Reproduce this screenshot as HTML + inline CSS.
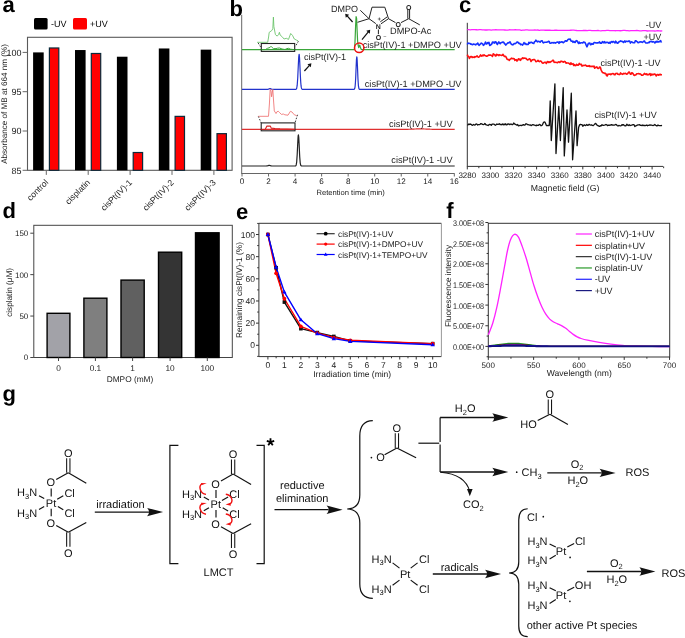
<!DOCTYPE html>
<html><head><meta charset="utf-8"><style>
html,body{margin:0;padding:0;background:#fff;}
svg{display:block;will-change:transform;font-family:"Liberation Sans",sans-serif;text-rendering:geometricPrecision;}
</style></head><body>
<svg width="685" height="638" viewBox="0 0 685 638">
<rect x="0" y="0" width="685" height="638" fill="#fff"/>
<text x="2.60" y="11.80" font-size="22" text-anchor="start" fill="#000" font-weight="bold" >a</text>
<rect x="34.00" y="18.00" width="13.60" height="11.40" fill="#000" stroke="none" stroke-width="1" rx="1.5"/>
<text x="51.00" y="27.30" font-size="9" text-anchor="start" fill="#000" >-UV</text>
<rect x="73.00" y="18.00" width="14.00" height="11.40" fill="#f00" stroke="none" stroke-width="1" rx="1.5"/>
<text x="90.00" y="27.30" font-size="9" text-anchor="start" fill="#000" >+UV</text>
<rect x="27.50" y="37.30" width="204.60" height="133.00" fill="none" stroke="#5a5a5a" stroke-width="1.1" />
<line x1="22.60" y1="170.30" x2="27.50" y2="170.30" stroke="#666" stroke-width="1" />
<text x="21.60" y="173.50" font-size="9" text-anchor="end" fill="#222" >85</text>
<line x1="22.60" y1="131.00" x2="27.50" y2="131.00" stroke="#666" stroke-width="1" />
<text x="21.60" y="134.20" font-size="9" text-anchor="end" fill="#222" >90</text>
<line x1="22.60" y1="91.70" x2="27.50" y2="91.70" stroke="#666" stroke-width="1" />
<text x="21.60" y="94.90" font-size="9" text-anchor="end" fill="#222" >95</text>
<line x1="22.60" y1="52.40" x2="27.50" y2="52.40" stroke="#666" stroke-width="1" />
<text x="21.60" y="55.60" font-size="9" text-anchor="end" fill="#222" >100</text>
<rect x="33.10" y="52.40" width="10.60" height="117.90" fill="#000" stroke="none" stroke-width="1" />
<rect x="49.40" y="47.98" width="9.40" height="122.32" fill="#f00" stroke="#0b2a3a" stroke-width="1.2" />
<line x1="46.30" y1="170.30" x2="46.30" y2="174.90" stroke="#666" stroke-width="1" />
<text transform="translate(48.80,183.0) rotate(-45)" font-size="8.6" text-anchor="end" fill="#222">control</text>
<rect x="75.00" y="50.04" width="10.60" height="120.26" fill="#000" stroke="none" stroke-width="1" />
<rect x="91.30" y="53.49" width="9.40" height="116.81" fill="#f00" stroke="#0b2a3a" stroke-width="1.2" />
<line x1="88.20" y1="170.30" x2="88.20" y2="174.90" stroke="#666" stroke-width="1" />
<text transform="translate(90.70,183.0) rotate(-45)" font-size="8.6" text-anchor="end" fill="#222">cisplatin</text>
<rect x="116.90" y="56.72" width="10.60" height="113.58" fill="#000" stroke="none" stroke-width="1" />
<rect x="133.20" y="152.52" width="9.40" height="17.78" fill="#f00" stroke="#0b2a3a" stroke-width="1.2" />
<line x1="130.10" y1="170.30" x2="130.10" y2="174.90" stroke="#666" stroke-width="1" />
<text transform="translate(132.60,183.0) rotate(-45)" font-size="8.6" text-anchor="end" fill="#222">cisPt(IV)-1</text>
<rect x="158.80" y="48.47" width="10.60" height="121.83" fill="#000" stroke="none" stroke-width="1" />
<rect x="175.10" y="116.37" width="9.40" height="53.93" fill="#f00" stroke="#0b2a3a" stroke-width="1.2" />
<line x1="172.00" y1="170.30" x2="172.00" y2="174.90" stroke="#666" stroke-width="1" />
<text transform="translate(174.50,183.0) rotate(-45)" font-size="8.6" text-anchor="end" fill="#222">cisPt(IV)-2</text>
<rect x="200.70" y="49.65" width="10.60" height="120.65" fill="#000" stroke="none" stroke-width="1" />
<rect x="217.00" y="133.66" width="9.40" height="36.64" fill="#f00" stroke="#0b2a3a" stroke-width="1.2" />
<line x1="213.90" y1="170.30" x2="213.90" y2="174.90" stroke="#666" stroke-width="1" />
<text transform="translate(216.40,183.0) rotate(-45)" font-size="8.6" text-anchor="end" fill="#222">cisPt(IV)-3</text>
<text transform="translate(6.5,104.0) rotate(-90)" font-size="8.1" text-anchor="middle" fill="#222">Absorbance of MB at 664 nm (%)</text>
<text x="229.60" y="15.60" font-size="22" text-anchor="start" fill="#000" font-weight="bold" >b</text>
<line x1="241.70" y1="14.80" x2="241.70" y2="174.00" stroke="#666" stroke-width="1" />
<line x1="241.70" y1="173.50" x2="454.62" y2="173.50" stroke="#666" stroke-width="1" />
<line x1="242.00" y1="173.50" x2="242.00" y2="176.50" stroke="#666" stroke-width="1" />
<line x1="268.54" y1="173.50" x2="268.54" y2="176.50" stroke="#666" stroke-width="1" />
<line x1="295.08" y1="173.50" x2="295.08" y2="176.50" stroke="#666" stroke-width="1" />
<line x1="321.62" y1="173.50" x2="321.62" y2="176.50" stroke="#666" stroke-width="1" />
<line x1="348.16" y1="173.50" x2="348.16" y2="176.50" stroke="#666" stroke-width="1" />
<line x1="374.70" y1="173.50" x2="374.70" y2="176.50" stroke="#666" stroke-width="1" />
<line x1="401.24" y1="173.50" x2="401.24" y2="176.50" stroke="#666" stroke-width="1" />
<line x1="427.78" y1="173.50" x2="427.78" y2="176.50" stroke="#666" stroke-width="1" />
<line x1="454.32" y1="173.50" x2="454.32" y2="176.50" stroke="#666" stroke-width="1" />
<text x="242.00" y="184.30" font-size="8.1" text-anchor="middle" fill="#222" >0</text>
<text x="268.54" y="184.30" font-size="8.1" text-anchor="middle" fill="#222" >2</text>
<text x="295.08" y="184.30" font-size="8.1" text-anchor="middle" fill="#222" >4</text>
<text x="321.62" y="184.30" font-size="8.1" text-anchor="middle" fill="#222" >6</text>
<text x="348.16" y="184.30" font-size="8.1" text-anchor="middle" fill="#222" >8</text>
<text x="374.70" y="184.30" font-size="8.1" text-anchor="middle" fill="#222" >10</text>
<text x="401.24" y="184.30" font-size="8.1" text-anchor="middle" fill="#222" >12</text>
<text x="427.78" y="184.30" font-size="8.1" text-anchor="middle" fill="#222" >14</text>
<text x="454.32" y="184.30" font-size="8.1" text-anchor="middle" fill="#222" >16</text>
<text x="350.70" y="195.30" font-size="7.6" text-anchor="middle" fill="#222" >Retention time (min)</text>
<polyline points="242.00,49.70 354.40,49.70 355.00,42.00 355.60,26.00 356.10,16.60 356.60,18.50 357.10,30.00 357.60,41.00 358.10,45.00 358.70,47.60 359.30,45.60 359.80,45.20 360.40,47.60 361.30,49.40 362.00,49.70 454.70,49.70" fill="none" stroke="#3aa63a" stroke-width="1.2" stroke-linejoin="round" />
<polyline points="242.00,89.40 242.51,89.40 243.01,89.40 243.52,89.40 244.03,89.40 244.53,89.40 245.04,89.40 245.54,89.40 246.05,89.40 246.56,89.40 247.06,89.40 247.57,89.40 248.08,89.40 248.58,89.40 249.09,89.40 249.60,89.40 250.10,89.40 250.61,89.40 251.12,89.40 251.62,89.40 252.13,89.40 252.63,89.40 253.14,89.40 253.65,89.40 254.15,89.40 254.66,89.40 255.17,89.40 255.67,89.40 256.18,89.40 256.69,89.40 257.19,89.40 257.70,89.40 258.21,89.40 258.71,89.40 259.22,89.40 259.73,89.40 260.23,89.40 260.74,89.40 261.24,89.40 261.75,89.40 262.26,89.40 262.76,89.40 263.27,89.40 263.78,89.40 264.28,89.40 264.79,89.40 265.30,89.40 265.80,89.40 266.31,89.40 266.81,89.39 267.00,89.39 267.32,89.37 267.75,89.32 267.83,89.30 268.33,89.17 268.50,89.11 268.84,88.96 269.10,88.84 269.35,88.74 269.55,88.67 269.85,88.61 270.00,88.60 270.36,88.64 270.45,88.67 270.87,88.83 270.90,88.84 271.37,89.05 271.50,89.11 271.88,89.23 272.25,89.32 272.39,89.34 272.89,89.38 273.00,89.39 273.40,89.40 273.90,89.40 274.41,89.40 274.92,89.40 275.42,89.40 275.93,89.40 276.44,89.40 276.94,89.40 277.45,89.40 277.96,89.40 278.46,89.40 278.97,89.40 279.48,89.40 279.98,89.40 280.49,89.40 281.00,89.40 281.50,89.40 282.01,89.40 282.51,89.40 283.02,89.40 283.53,89.40 284.03,89.40 284.54,89.40 285.05,89.40 285.55,89.40 286.06,89.40 286.57,89.40 287.07,89.40 287.58,89.40 288.08,89.40 288.59,89.40 289.10,89.40 289.60,89.40 290.11,89.40 290.62,89.40 291.12,89.40 291.63,89.40 292.14,89.40 292.64,89.40 293.15,89.40 293.66,89.40 294.16,89.40 294.67,89.40 295.18,89.40 295.68,89.37 296.19,89.17 296.50,88.76 296.69,88.26 297.15,85.70 297.20,85.24 297.71,78.27 297.80,76.49 298.21,67.34 298.32,64.91 298.71,57.32 298.72,57.17 299.10,54.30 299.23,54.63 299.49,57.32 299.73,61.71 299.88,64.91 300.24,73.11 300.40,76.49 300.75,82.34 301.05,85.70 301.25,87.13 301.70,88.76 301.76,88.86 302.26,89.31 302.77,89.39 303.28,89.40 303.78,89.40 304.29,89.40 304.80,89.40 305.30,89.40 305.81,89.40 306.32,89.40 306.82,89.40 307.33,89.40 307.84,89.40 308.34,89.40 308.85,89.40 309.36,89.40 309.86,89.40 310.37,89.40 310.87,89.40 311.38,89.40 311.89,89.40 312.39,89.40 312.90,89.40 313.41,89.40 313.91,89.40 314.42,89.40 314.93,89.40 315.43,89.40 315.94,89.40 316.44,89.40 316.95,89.40 317.46,89.40 317.96,89.40 318.47,89.40 318.98,89.40 319.48,89.40 319.99,89.40 320.50,89.40 321.00,89.40 321.51,89.40 322.02,89.40 322.52,89.40 323.03,89.40 323.54,89.40 324.04,89.40 324.55,89.40 325.05,89.40 325.56,89.40 326.07,89.40 326.57,89.40 327.08,89.40 327.59,89.40 328.09,89.40 328.60,89.40 329.11,89.40 329.61,89.40 330.12,89.40 330.62,89.40 331.13,89.40 331.64,89.40 332.14,89.40 332.65,89.40 333.16,89.40 333.66,89.40 334.17,89.40 334.68,89.40 335.18,89.40 335.69,89.40 336.20,89.40 336.70,89.40 337.21,89.40 337.71,89.40 338.22,89.40 338.73,89.40 339.23,89.40 339.74,89.40 340.25,89.40 340.75,89.40 341.26,89.40 341.77,89.40 342.27,89.40 342.78,89.40 343.29,89.40 343.79,89.40 344.30,89.40 344.81,89.40 345.31,89.40 345.82,89.40 346.32,89.40 346.83,89.40 347.34,89.40 347.84,89.40 348.35,89.40 348.86,89.40 349.36,89.40 349.87,89.40 350.38,89.40 350.88,89.40 351.39,89.40 351.89,89.40 352.40,89.40 352.91,89.40 353.41,89.40 353.92,89.37 354.43,89.09 354.60,88.80 354.93,87.57 355.15,85.96 355.44,82.33 355.70,77.41 355.95,71.56 356.14,66.66 356.45,59.89 356.47,59.61 356.80,56.80 356.96,57.47 357.13,59.61 357.46,66.66 357.47,66.80 357.90,77.41 357.97,78.92 358.45,85.96 358.48,86.23 358.99,88.77 359.00,88.80 359.49,89.32 360.00,89.39 360.50,89.40 361.01,89.40 361.52,89.40 362.02,89.40 362.53,89.40 363.04,89.40 363.54,89.40 364.05,89.40 364.56,89.40 365.06,89.40 365.57,89.40 366.07,89.40 366.58,89.40 367.09,89.40 367.59,89.40 368.10,89.40 368.61,89.40 369.11,89.40 369.62,89.40 370.13,89.40 370.63,89.40 371.14,89.40 371.65,89.40 372.15,89.40 372.66,89.40 373.17,89.40 373.67,89.40 374.18,89.40 374.68,89.40 375.19,89.40 375.70,89.40 376.20,89.40 376.71,89.40 377.22,89.40 377.72,89.40 378.23,89.40 378.74,89.40 379.24,89.40 379.75,89.40 380.25,89.40 380.76,89.40 381.27,89.40 381.77,89.40 382.28,89.40 382.79,89.40 383.29,89.40 383.80,89.40 384.31,89.40 384.81,89.40 385.32,89.40 385.83,89.40 386.33,89.40 386.84,89.40 387.35,89.40 387.85,89.40 388.36,89.40 388.86,89.40 389.37,89.40 389.88,89.40 390.38,89.40 390.89,89.40 391.40,89.40 391.90,89.40 392.41,89.40 392.92,89.40 393.42,89.40 393.93,89.40 394.44,89.40 394.94,89.40 395.45,89.40 395.95,89.40 396.46,89.40 396.97,89.40 397.47,89.40 397.98,89.40 398.49,89.40 398.99,89.40 399.50,89.40 400.01,89.40 400.51,89.40 401.02,89.40 401.52,89.40 402.03,89.40 402.54,89.40 403.04,89.40 403.55,89.40 404.06,89.40 404.56,89.40 405.07,89.40 405.58,89.40 406.08,89.40 406.59,89.40 407.10,89.40 407.60,89.40 408.11,89.40 408.62,89.40 409.12,89.40 409.63,89.40 410.13,89.40 410.64,89.40 411.15,89.40 411.65,89.40 412.16,89.40 412.67,89.40 413.17,89.40 413.68,89.40 414.19,89.40 414.69,89.40 415.20,89.40 415.70,89.40 416.21,89.40 416.72,89.40 417.22,89.40 417.73,89.40 418.24,89.40 418.74,89.40 419.25,89.40 419.76,89.40 420.26,89.40 420.77,89.40 421.28,89.40 421.78,89.40 422.29,89.40 422.80,89.40 423.30,89.40 423.81,89.40 424.31,89.40 424.82,89.40 425.33,89.40 425.83,89.40 426.34,89.40 426.85,89.40 427.35,89.40 427.86,89.40 428.37,89.40 428.87,89.40 429.38,89.40 429.88,89.40 430.39,89.40 430.90,89.40 431.40,89.40 431.91,89.40 432.42,89.40 432.92,89.40 433.43,89.40 433.94,89.40 434.44,89.40 434.95,89.40 435.46,89.40 435.96,89.40 436.47,89.40 436.98,89.40 437.48,89.40 437.99,89.40 438.49,89.40 439.00,89.40 439.51,89.40 440.01,89.40 440.52,89.40 441.03,89.40 441.53,89.40 442.04,89.40 442.55,89.40 443.05,89.40 443.56,89.40 444.06,89.40 444.57,89.40 445.08,89.40 445.58,89.40 446.09,89.40 446.60,89.40 447.10,89.40 447.61,89.40 448.12,89.40 448.62,89.40 449.13,89.40 449.64,89.40 450.14,89.40 450.65,89.40 451.15,89.40 451.66,89.40 452.17,89.40 452.67,89.40 453.18,89.40 453.69,89.40 454.19,89.40 454.70,89.40" fill="none" stroke="#2233cc" stroke-width="1.2" stroke-linejoin="round" />
<polyline points="242.00,129.40 242.51,129.40 243.01,129.40 243.52,129.40 244.03,129.40 244.53,129.40 245.04,129.40 245.54,129.40 246.05,129.40 246.56,129.40 247.06,129.40 247.57,129.40 248.08,129.40 248.58,129.40 249.09,129.40 249.60,129.40 250.10,129.40 250.61,129.40 251.12,129.40 251.62,129.40 252.13,129.40 252.63,129.40 253.14,129.40 253.65,129.40 254.15,129.40 254.66,129.40 255.17,129.40 255.67,129.40 256.18,129.40 256.69,129.40 257.19,129.40 257.70,129.40 258.21,129.40 258.71,129.40 259.22,129.40 259.73,129.40 260.23,129.40 260.74,129.40 261.24,129.40 261.75,129.40 262.26,129.40 262.76,129.40 263.27,129.40 263.78,129.40 264.28,129.40 264.79,129.40 265.30,129.40 265.80,129.40 266.31,129.40 266.81,129.40 267.32,129.40 267.83,129.40 268.33,129.40 268.84,129.40 269.35,129.40 269.85,129.40 270.36,129.40 270.87,129.40 271.37,129.40 271.88,129.40 272.39,129.40 272.89,129.40 273.40,129.40 273.90,129.40 274.41,129.40 274.92,129.40 275.42,129.40 275.93,129.40 276.44,129.40 276.94,129.40 277.45,129.40 277.96,129.40 278.46,129.40 278.97,129.40 279.48,129.40 279.98,129.40 280.49,129.40 281.00,129.40 281.50,129.40 282.01,129.40 282.51,129.40 283.02,129.40 283.53,129.40 284.03,129.40 284.54,129.40 285.05,129.40 285.55,129.40 286.06,129.40 286.57,129.40 287.07,129.40 287.58,129.40 288.08,129.40 288.59,129.40 289.10,129.40 289.60,129.40 290.11,129.40 290.62,129.40 291.12,129.40 291.63,129.40 292.14,129.40 292.64,129.40 293.15,129.40 293.66,129.40 294.16,129.40 294.67,129.40 295.18,129.40 295.68,129.40 296.19,129.40 296.69,129.40 297.20,129.40 297.71,129.40 298.21,129.40 298.72,129.40 299.23,129.40 299.73,129.40 300.24,129.40 300.75,129.40 301.25,129.40 301.76,129.40 302.26,129.40 302.77,129.40 303.28,129.40 303.78,129.40 304.29,129.40 304.80,129.40 305.30,129.40 305.81,129.40 306.32,129.40 306.82,129.40 307.33,129.40 307.84,129.40 308.34,129.40 308.85,129.40 309.36,129.40 309.86,129.40 310.37,129.40 310.87,129.40 311.38,129.40 311.89,129.40 312.39,129.40 312.90,129.40 313.41,129.40 313.91,129.40 314.42,129.40 314.93,129.40 315.43,129.40 315.94,129.40 316.44,129.40 316.95,129.40 317.46,129.40 317.96,129.40 318.47,129.40 318.98,129.40 319.48,129.40 319.99,129.40 320.50,129.40 321.00,129.40 321.51,129.40 322.02,129.40 322.52,129.40 323.03,129.40 323.54,129.40 324.04,129.40 324.55,129.40 325.05,129.40 325.56,129.40 326.07,129.40 326.57,129.40 327.08,129.40 327.59,129.40 328.09,129.40 328.60,129.40 329.11,129.40 329.61,129.40 330.12,129.40 330.62,129.40 331.13,129.40 331.64,129.40 332.14,129.40 332.65,129.40 333.16,129.40 333.66,129.40 334.17,129.40 334.68,129.40 335.18,129.40 335.69,129.40 336.20,129.40 336.70,129.40 337.21,129.40 337.71,129.40 338.22,129.40 338.73,129.40 339.23,129.40 339.74,129.40 340.25,129.40 340.75,129.40 341.26,129.40 341.77,129.40 342.27,129.40 342.78,129.40 343.29,129.40 343.79,129.40 344.30,129.40 344.81,129.40 345.31,129.40 345.82,129.40 346.32,129.40 346.83,129.40 347.34,129.40 347.84,129.40 348.35,129.40 348.86,129.40 349.36,129.40 349.87,129.40 350.38,129.40 350.88,129.40 351.39,129.40 351.89,129.40 352.40,129.40 352.91,129.40 353.41,129.40 353.92,129.40 354.43,129.40 354.93,129.40 355.44,129.40 355.95,129.40 356.45,129.40 356.96,129.40 357.47,129.40 357.97,129.40 358.48,129.40 358.99,129.40 359.49,129.40 360.00,129.40 360.50,129.40 361.01,129.40 361.52,129.40 362.02,129.40 362.53,129.40 363.04,129.40 363.54,129.40 364.05,129.40 364.56,129.40 365.06,129.40 365.57,129.40 366.07,129.40 366.58,129.40 367.09,129.40 367.59,129.40 368.10,129.40 368.61,129.40 369.11,129.40 369.62,129.40 370.13,129.40 370.63,129.40 371.14,129.40 371.65,129.40 372.15,129.40 372.66,129.40 373.17,129.40 373.67,129.40 374.18,129.40 374.68,129.40 375.19,129.40 375.70,129.40 376.20,129.40 376.71,129.40 377.22,129.40 377.72,129.40 378.23,129.40 378.74,129.40 379.24,129.40 379.75,129.40 380.25,129.40 380.76,129.40 381.27,129.40 381.77,129.40 382.28,129.40 382.79,129.40 383.29,129.40 383.80,129.40 384.31,129.40 384.81,129.40 385.32,129.40 385.83,129.40 386.33,129.40 386.84,129.40 387.35,129.40 387.85,129.40 388.36,129.40 388.86,129.40 389.37,129.40 389.88,129.40 390.38,129.40 390.89,129.40 391.40,129.40 391.90,129.40 392.41,129.40 392.92,129.40 393.42,129.40 393.93,129.40 394.44,129.40 394.94,129.40 395.45,129.40 395.95,129.40 396.46,129.40 396.97,129.40 397.47,129.40 397.98,129.40 398.49,129.40 398.99,129.39 399.50,129.39 400.00,129.39 400.01,129.39 400.51,129.39 401.02,129.39 401.52,129.38 402.03,129.38 402.54,129.38 403.04,129.37 403.55,129.37 404.06,129.36 404.56,129.35 405.00,129.35 405.07,129.35 405.58,129.34 406.08,129.33 406.59,129.32 407.10,129.31 407.60,129.29 408.11,129.28 408.62,129.26 409.12,129.25 409.63,129.23 410.00,129.22 410.13,129.21 410.64,129.19 411.15,129.17 411.65,129.15 412.16,129.13 412.67,129.11 413.17,129.09 413.68,129.06 414.00,129.05 414.19,129.04 414.69,129.02 415.20,129.00 415.70,128.98 416.21,128.97 416.72,128.95 417.00,128.94 417.22,128.94 417.73,128.93 418.24,128.92 418.74,128.91 419.25,128.90 419.76,128.90 420.00,128.90 420.26,128.90 420.77,128.90 421.28,128.91 421.78,128.92 422.29,128.93 422.80,128.94 423.00,128.94 423.30,128.95 423.81,128.97 424.31,128.98 424.82,129.00 425.33,129.02 425.83,129.04 426.00,129.05 426.34,129.07 426.85,129.09 427.35,129.11 427.86,129.13 428.37,129.15 428.87,129.17 429.38,129.19 429.88,129.21 430.00,129.22 430.39,129.23 430.90,129.25 431.40,129.26 431.91,129.28 432.42,129.29 432.92,129.31 433.43,129.32 433.94,129.33 434.44,129.34 434.95,129.35 435.00,129.35 435.46,129.35 435.96,129.36 436.47,129.37 436.98,129.37 437.48,129.38 437.99,129.38 438.49,129.38 439.00,129.39 439.51,129.39 440.00,129.39 440.01,129.39 440.52,129.39 441.03,129.39 441.53,129.40 442.04,129.40 442.55,129.40 443.05,129.40 443.56,129.40 444.06,129.40 444.57,129.40 445.08,129.40 445.58,129.40 446.09,129.40 446.60,129.40 447.10,129.40 447.61,129.40 448.12,129.40 448.62,129.40 449.13,129.40 449.64,129.40 450.14,129.40 450.65,129.40 451.15,129.40 451.66,129.40 452.17,129.40 452.67,129.40 453.18,129.40 453.69,129.40 454.19,129.40 454.70,129.40" fill="none" stroke="#e03030" stroke-width="1.2" stroke-linejoin="round" />
<polyline points="242.00,166.00 242.51,166.00 243.01,166.00 243.52,166.00 244.03,166.00 244.53,166.00 245.04,166.00 245.54,166.00 246.05,166.00 246.56,166.00 247.06,166.00 247.57,166.00 248.08,166.00 248.58,166.00 249.09,166.00 249.60,166.00 250.10,166.00 250.61,166.00 251.12,166.00 251.62,166.00 252.13,166.00 252.63,166.00 253.14,166.00 253.65,166.00 254.15,166.00 254.66,166.00 255.17,166.00 255.67,166.00 256.18,166.00 256.69,166.00 257.19,166.00 257.70,166.00 258.21,166.00 258.71,166.00 259.22,166.00 259.73,166.00 260.23,166.00 260.74,166.00 261.24,166.00 261.75,166.00 262.26,166.00 262.76,166.00 263.27,166.00 263.78,166.00 264.28,166.00 264.79,166.00 265.30,166.00 265.80,166.00 266.20,165.99 266.31,165.99 266.81,165.95 266.95,165.94 267.32,165.88 267.70,165.78 267.83,165.74 268.30,165.58 268.33,165.57 268.75,165.45 268.84,165.43 269.20,165.40 269.35,165.41 269.65,165.45 269.85,165.50 270.10,165.58 270.36,165.67 270.70,165.78 270.87,165.83 271.37,165.93 271.45,165.94 271.88,165.98 272.20,165.99 272.39,165.99 272.89,166.00 273.40,166.00 273.90,166.00 274.41,166.00 274.92,166.00 275.42,166.00 275.93,166.00 276.44,166.00 276.94,166.00 277.45,166.00 277.96,166.00 278.46,166.00 278.97,166.00 279.48,166.00 279.98,166.00 280.49,166.00 281.00,166.00 281.50,166.00 282.01,166.00 282.51,166.00 283.02,166.00 283.53,166.00 284.03,166.00 284.54,166.00 285.05,166.00 285.55,166.00 286.06,166.00 286.57,166.00 287.07,166.00 287.58,166.00 288.08,166.00 288.59,166.00 289.10,166.00 289.60,166.00 290.11,166.00 290.62,166.00 291.12,166.00 291.63,166.00 292.14,166.00 292.64,166.00 293.15,166.00 293.66,166.00 294.16,166.00 294.67,166.00 295.18,165.98 295.68,165.82 296.00,165.43 296.19,164.96 296.60,162.72 296.69,161.88 297.20,154.56 297.20,154.54 297.68,144.30 297.71,143.72 298.04,137.58 298.21,135.64 298.40,134.90 298.72,137.03 298.76,137.58 299.12,144.30 299.23,146.64 299.60,154.56 299.73,156.95 300.20,162.72 300.24,163.03 300.75,165.32 300.80,165.43 301.25,165.89 301.76,165.99 302.26,166.00 302.77,166.00 303.28,166.00 303.78,166.00 304.29,166.00 304.80,166.00 305.30,166.00 305.81,166.00 306.32,166.00 306.82,166.00 307.33,166.00 307.84,166.00 308.34,166.00 308.85,166.00 309.36,166.00 309.86,166.00 310.37,166.00 310.87,166.00 311.38,166.00 311.89,166.00 312.39,166.00 312.90,166.00 313.41,166.00 313.91,166.00 314.42,166.00 314.93,166.00 315.43,166.00 315.94,166.00 316.44,166.00 316.95,166.00 317.46,166.00 317.96,166.00 318.47,166.00 318.98,166.00 319.48,166.00 319.99,166.00 320.50,166.00 321.00,166.00 321.51,166.00 322.02,166.00 322.52,166.00 323.03,166.00 323.54,166.00 324.04,166.00 324.55,166.00 325.05,166.00 325.56,166.00 326.07,166.00 326.57,166.00 327.08,166.00 327.59,166.00 328.09,166.00 328.60,166.00 329.11,166.00 329.61,166.00 330.12,166.00 330.62,166.00 331.13,166.00 331.64,166.00 332.14,166.00 332.65,166.00 333.16,166.00 333.66,166.00 334.17,166.00 334.68,166.00 335.18,166.00 335.69,166.00 336.20,166.00 336.70,166.00 337.21,166.00 337.71,166.00 338.22,166.00 338.73,166.00 339.23,166.00 339.74,166.00 340.25,166.00 340.75,166.00 341.26,166.00 341.77,166.00 342.27,166.00 342.78,166.00 343.29,166.00 343.79,166.00 344.30,166.00 344.81,166.00 345.31,166.00 345.82,166.00 346.32,166.00 346.83,166.00 347.34,166.00 347.84,166.00 348.35,166.00 348.86,166.00 349.36,166.00 349.87,166.00 350.38,166.00 350.88,166.00 351.39,166.00 351.89,166.00 352.40,166.00 352.91,166.00 353.41,166.00 353.92,166.00 354.43,166.00 354.93,166.00 355.44,166.00 355.95,166.00 356.45,166.00 356.96,166.00 357.47,166.00 357.97,166.00 358.48,166.00 358.99,166.00 359.49,166.00 360.00,166.00 360.50,166.00 361.01,166.00 361.52,166.00 362.02,166.00 362.53,166.00 363.04,166.00 363.54,166.00 364.05,166.00 364.56,166.00 365.06,166.00 365.57,166.00 366.07,166.00 366.58,166.00 367.09,166.00 367.59,166.00 368.10,166.00 368.61,166.00 369.11,166.00 369.62,166.00 370.13,166.00 370.63,166.00 371.14,166.00 371.65,166.00 372.15,166.00 372.66,166.00 373.17,166.00 373.67,166.00 374.18,166.00 374.68,166.00 375.19,166.00 375.70,166.00 376.20,166.00 376.71,166.00 377.22,166.00 377.72,166.00 378.23,166.00 378.74,166.00 379.24,166.00 379.75,166.00 380.25,166.00 380.76,166.00 381.27,166.00 381.77,166.00 382.28,166.00 382.79,166.00 383.29,166.00 383.80,166.00 384.31,166.00 384.81,166.00 385.32,166.00 385.83,166.00 386.33,166.00 386.84,166.00 387.35,166.00 387.85,166.00 388.36,166.00 388.86,166.00 389.37,166.00 389.88,166.00 390.38,166.00 390.89,166.00 391.40,166.00 391.90,166.00 392.41,166.00 392.92,166.00 393.42,166.00 393.93,166.00 394.44,166.00 394.94,166.00 395.45,166.00 395.95,166.00 396.46,166.00 396.97,166.00 397.47,166.00 397.98,166.00 398.49,166.00 398.99,166.00 399.50,166.00 400.01,166.00 400.51,166.00 401.02,166.00 401.52,166.00 402.03,166.00 402.54,166.00 403.04,166.00 403.55,166.00 404.06,166.00 404.56,166.00 405.07,166.00 405.58,166.00 406.08,166.00 406.59,166.00 407.10,166.00 407.60,166.00 408.11,166.00 408.62,166.00 409.12,166.00 409.63,166.00 410.13,166.00 410.64,166.00 411.15,166.00 411.65,166.00 412.16,166.00 412.67,166.00 413.17,166.00 413.68,166.00 414.19,166.00 414.69,166.00 415.20,166.00 415.70,166.00 416.21,166.00 416.72,166.00 417.22,166.00 417.73,166.00 418.24,166.00 418.74,166.00 419.25,166.00 419.76,166.00 420.26,166.00 420.77,166.00 421.28,166.00 421.78,166.00 422.29,166.00 422.80,166.00 423.30,166.00 423.81,166.00 424.31,166.00 424.82,166.00 425.33,166.00 425.83,166.00 426.34,166.00 426.85,166.00 427.35,166.00 427.86,166.00 428.37,166.00 428.87,166.00 429.38,166.00 429.88,166.00 430.39,166.00 430.90,166.00 431.40,166.00 431.91,166.00 432.42,166.00 432.92,166.00 433.43,166.00 433.94,166.00 434.44,166.00 434.95,166.00 435.46,166.00 435.96,166.00 436.47,166.00 436.98,166.00 437.48,166.00 437.99,166.00 438.49,166.00 439.00,166.00 439.51,166.00 440.01,166.00 440.52,166.00 441.03,166.00 441.53,166.00 442.04,166.00 442.55,166.00 443.05,166.00 443.56,166.00 444.06,166.00 444.57,166.00 445.08,166.00 445.58,166.00 446.09,166.00 446.60,166.00 447.10,166.00 447.61,166.00 448.12,166.00 448.62,166.00 449.13,166.00 449.64,166.00 450.14,166.00 450.65,166.00 451.15,166.00 451.66,166.00 452.17,166.00 452.67,166.00 453.18,166.00 453.69,166.00 454.19,166.00 454.70,166.00" fill="none" stroke="#222" stroke-width="1.2" stroke-linejoin="round" />
<text x="461.70" y="47.50" font-size="9.2" text-anchor="end" fill="#222" >cisPt(IV)-1 +DMPO +UV</text>
<text x="461.50" y="86.90" font-size="9.2" text-anchor="end" fill="#222" >cisPt(IV)-1 +DMPO -UV</text>
<text x="452.60" y="126.60" font-size="9.2" text-anchor="end" fill="#222" >cisPt(IV)-1 +UV</text>
<text x="452.60" y="162.60" font-size="9.2" text-anchor="end" fill="#222" >cisPt(IV)-1 -UV</text>
<text x="303.90" y="59.80" font-size="9.05" text-anchor="start" fill="#222" >cisPt(IV)-1</text>
<rect x="261.30" y="43.50" width="33.40" height="7.90" fill="none" stroke="#222" stroke-width="1.1" />
<rect x="261.20" y="122.90" width="33.80" height="7.90" fill="none" stroke="#222" stroke-width="1.1" />
<line x1="258.20" y1="43.00" x2="261.30" y2="48.00" stroke="#222" stroke-width="0.9" stroke-dasharray="1.6,1.4"/>
<line x1="298.40" y1="41.20" x2="295.40" y2="46.50" stroke="#222" stroke-width="0.9" stroke-dasharray="1.6,1.4"/>
<line x1="258.30" y1="116.30" x2="261.20" y2="122.90" stroke="#222" stroke-width="0.9" stroke-dasharray="1.6,1.4"/>
<line x1="297.50" y1="114.80" x2="295.00" y2="122.90" stroke="#222" stroke-width="0.9" stroke-dasharray="1.6,1.4"/>
<polyline points="257.10,42.30 267.70,42.30 268.60,37.00 269.20,32.40 271.70,30.60 272.80,28.80 273.40,17.10 273.90,26.60 275.40,34.60 277.20,36.10 278.60,34.50 279.40,32.30 280.10,35.00 281.90,36.50 284.10,39.00 286.30,38.30 288.50,39.40 290.70,33.50 292.50,35.40 294.30,39.00 296.30,40.00 298.00,40.80" fill="none" stroke="#66c266" stroke-width="0.85" stroke-linejoin="round" />
<polyline points="261.50,49.70 265.50,49.50 267.50,48.30 270.00,47.50 271.00,46.30 272.20,47.60 273.50,48.60 276.00,48.60 277.50,48.20 279.50,48.00 282.00,49.00 285.00,49.50 287.00,48.60 288.50,48.30 290.50,49.20 294.70,49.70" fill="none" stroke="#3aa63a" stroke-width="1.0" stroke-linejoin="round" />
<polyline points="258.30,116.30 268.50,116.30 269.40,104.00 270.20,88.90 271.00,91.00 271.60,96.80 272.30,92.00 272.80,89.30 273.50,100.00 274.30,110.90 276.00,113.50 277.10,111.60 278.30,111.30 279.40,112.40 281.40,114.40 283.30,114.00 284.90,114.80 288.00,115.20 290.40,111.30 292.00,112.00 294.30,114.80 296.70,115.60" fill="none" stroke="#ee7070" stroke-width="0.85" stroke-linejoin="round" />
<polyline points="261.40,129.50 265.30,129.30 266.90,126.10 270.40,126.10 271.20,128.10 275.00,128.50 280.00,128.80 294.80,129.30" fill="none" stroke="#d42020" stroke-width="1.1" stroke-linejoin="round" />
<circle cx="359.2" cy="47.8" r="4.7" fill="none" stroke="#ee1111" stroke-width="1.5"/>
<line x1="304.40" y1="71.00" x2="309.45" y2="65.45" stroke="#111" stroke-width="1.2" />
<polygon points="311.40,63.30 310.81,67.36 307.41,64.27" fill="#111"/>
<line x1="352.60" y1="22.00" x2="347.14" y2="15.95" stroke="#111" stroke-width="1.2" />
<polygon points="345.20,13.80 349.19,14.78 345.77,17.87" fill="#111"/>
<line x1="362.00" y1="39.60" x2="368.35" y2="31.93" stroke="#111" stroke-width="1.2" />
<polygon points="370.20,29.70 369.80,33.79 366.26,30.85" fill="#111"/>
<text x="331.00" y="11.90" font-size="9" text-anchor="start" fill="#222" >DMPO</text>
<text x="390.00" y="34.20" font-size="9.2" text-anchor="start" fill="#222" >DMPO-Ac</text>
<line x1="369.00" y1="18.70" x2="372.00" y2="7.20" stroke="#222" stroke-width="1.0" />
<line x1="372.00" y1="7.20" x2="384.80" y2="7.20" stroke="#222" stroke-width="1.0" />
<line x1="384.80" y1="7.20" x2="388.50" y2="18.70" stroke="#222" stroke-width="1.0" />
<line x1="369.00" y1="18.70" x2="375.80" y2="23.60" stroke="#222" stroke-width="1.0" />
<line x1="388.50" y1="18.70" x2="381.00" y2="23.80" stroke="#222" stroke-width="1.0" />
<line x1="387.00" y1="17.00" x2="380.30" y2="21.80" stroke="#222" stroke-width="1.0" />
<line x1="369.00" y1="18.70" x2="360.30" y2="10.30" stroke="#222" stroke-width="1.0" />
<line x1="369.00" y1="18.70" x2="357.50" y2="22.30" stroke="#222" stroke-width="1.0" />
<text x="378.40" y="29.00" font-size="7" text-anchor="middle" fill="#222" font-weight="bold" >N</text>
<text x="379.20" y="21.40" font-size="6" text-anchor="middle" fill="#222" font-weight="bold" >+</text>
<line x1="378.40" y1="29.50" x2="378.40" y2="34.20" stroke="#222" stroke-width="1.0" />
<text x="378.40" y="40.20" font-size="7" text-anchor="middle" fill="#222" font-weight="bold" >O</text>
<text x="384.80" y="37.50" font-size="5.5" text-anchor="middle" fill="#222" >−</text>
<line x1="388.50" y1="18.70" x2="395.50" y2="22.60" stroke="#222" stroke-width="1.0" />
<text x="398.30" y="26.70" font-size="7" text-anchor="middle" fill="#222" font-weight="bold" >O</text>
<line x1="401.00" y1="22.60" x2="408.70" y2="18.70" stroke="#222" stroke-width="1.0" />
<line x1="407.80" y1="18.70" x2="407.80" y2="9.60" stroke="#222" stroke-width="1.0" />
<line x1="409.60" y1="18.70" x2="409.60" y2="9.60" stroke="#222" stroke-width="1.0" />
<text x="408.70" y="9.60" font-size="7" text-anchor="middle" fill="#222" font-weight="bold" >O</text>
<line x1="408.70" y1="18.70" x2="419.80" y2="24.90" stroke="#222" stroke-width="1.0" />
<text x="458.90" y="11.80" font-size="22" text-anchor="start" fill="#000" font-weight="bold" >c</text>
<line x1="467.30" y1="22.80" x2="467.30" y2="166.90" stroke="#333" stroke-width="1" />
<line x1="467.30" y1="166.40" x2="663.00" y2="166.40" stroke="#333" stroke-width="1" />
<line x1="467.30" y1="166.40" x2="467.30" y2="169.40" stroke="#333" stroke-width="1" />
<line x1="478.85" y1="166.40" x2="478.85" y2="168.20" stroke="#333" stroke-width="1" />
<line x1="490.40" y1="166.40" x2="490.40" y2="169.40" stroke="#333" stroke-width="1" />
<line x1="501.95" y1="166.40" x2="501.95" y2="168.20" stroke="#333" stroke-width="1" />
<line x1="513.50" y1="166.40" x2="513.50" y2="169.40" stroke="#333" stroke-width="1" />
<line x1="525.05" y1="166.40" x2="525.05" y2="168.20" stroke="#333" stroke-width="1" />
<line x1="536.60" y1="166.40" x2="536.60" y2="169.40" stroke="#333" stroke-width="1" />
<line x1="548.15" y1="166.40" x2="548.15" y2="168.20" stroke="#333" stroke-width="1" />
<line x1="559.70" y1="166.40" x2="559.70" y2="169.40" stroke="#333" stroke-width="1" />
<line x1="571.25" y1="166.40" x2="571.25" y2="168.20" stroke="#333" stroke-width="1" />
<line x1="582.80" y1="166.40" x2="582.80" y2="169.40" stroke="#333" stroke-width="1" />
<line x1="594.35" y1="166.40" x2="594.35" y2="168.20" stroke="#333" stroke-width="1" />
<line x1="605.90" y1="166.40" x2="605.90" y2="169.40" stroke="#333" stroke-width="1" />
<line x1="617.45" y1="166.40" x2="617.45" y2="168.20" stroke="#333" stroke-width="1" />
<line x1="629.00" y1="166.40" x2="629.00" y2="169.40" stroke="#333" stroke-width="1" />
<line x1="640.55" y1="166.40" x2="640.55" y2="168.20" stroke="#333" stroke-width="1" />
<line x1="652.10" y1="166.40" x2="652.10" y2="169.40" stroke="#333" stroke-width="1" />
<line x1="663.65" y1="166.40" x2="663.65" y2="168.20" stroke="#333" stroke-width="1" />
<text x="467.30" y="178.00" font-size="8" text-anchor="middle" fill="#222" >3280</text>
<text x="490.40" y="178.00" font-size="8" text-anchor="middle" fill="#222" >3300</text>
<text x="513.50" y="178.00" font-size="8" text-anchor="middle" fill="#222" >3320</text>
<text x="536.60" y="178.00" font-size="8" text-anchor="middle" fill="#222" >3340</text>
<text x="559.70" y="178.00" font-size="8" text-anchor="middle" fill="#222" >3360</text>
<text x="582.80" y="178.00" font-size="8" text-anchor="middle" fill="#222" >3380</text>
<text x="605.90" y="178.00" font-size="8" text-anchor="middle" fill="#222" >3400</text>
<text x="629.00" y="178.00" font-size="8" text-anchor="middle" fill="#222" >3420</text>
<text x="652.10" y="178.00" font-size="8" text-anchor="middle" fill="#222" >3440</text>
<text x="565.00" y="191.20" font-size="8.7" text-anchor="middle" fill="#222" >Magnetic field (G)</text>
<polyline points="467.30,29.55 468.80,29.69 470.30,29.83 471.80,29.71 473.30,29.57 474.80,29.66 476.30,29.77 477.80,29.90 479.30,29.69 480.80,29.58 482.30,29.78 483.80,29.85 485.30,30.01 486.80,30.02 488.30,29.90 489.80,29.83 491.30,30.15 492.80,29.95 494.30,29.81 495.80,29.70 497.30,29.81 498.80,29.87 500.30,29.84 501.80,29.87 503.30,29.92 504.80,30.00 506.30,30.09 507.80,30.03 509.30,29.77 510.80,29.95 512.30,29.79 513.80,29.87 515.30,29.75 516.80,29.88 518.30,29.85 519.80,29.96 521.30,30.38 522.80,30.18 524.30,30.20 525.80,29.95 527.30,29.97 528.80,30.09 530.30,30.07 531.80,30.11 533.30,30.11 534.80,29.97 536.30,30.11 537.80,30.01 539.30,30.29 540.80,30.14 542.30,30.21 543.80,30.17 545.30,30.27 546.80,30.14 548.30,30.27 549.80,30.20 551.30,30.34 552.80,30.33 554.30,30.27 555.80,30.14 557.30,30.27 558.80,30.30 560.30,30.46 561.80,30.29 563.30,30.33 564.80,30.35 566.30,30.34 567.80,30.33 569.30,30.32 570.80,30.23 572.30,30.15 573.80,30.19 575.30,30.33 576.80,30.51 578.30,30.53 579.80,30.55 581.30,30.53 582.80,30.52 584.30,30.46 585.80,30.50 587.30,30.65 588.80,30.47 590.30,30.35 591.80,30.62 593.30,30.54 594.80,30.59 596.30,30.61 597.80,30.38 599.30,30.71 600.80,30.79 602.30,30.63 603.80,30.64 605.30,30.57 606.80,30.42 608.30,30.45 609.80,30.53 611.30,30.66 612.80,30.67 614.30,30.60 615.80,30.73 617.30,30.54 618.80,30.65 620.30,30.74 621.80,30.61 623.30,30.38 624.80,30.39 626.30,30.54 627.80,30.64 629.30,30.81 630.80,30.59 632.30,30.62 633.80,30.71 635.30,30.66 636.80,30.38 638.30,30.63 639.80,30.94 641.30,30.92 642.80,30.69 644.30,30.65 645.80,30.71 647.30,31.01 648.80,30.93 650.30,30.84 651.80,30.97 653.30,30.84 654.80,31.02 656.30,30.80 657.80,30.73 659.30,30.85 660.80,30.99 662.30,30.97" fill="none" stroke="#ff22ff" stroke-width="1.3" stroke-linejoin="round" />
<polyline points="467.30,44.51 468.00,43.10 468.70,43.24 469.40,43.36 470.10,43.46 470.80,44.28 471.50,43.99 472.20,44.64 472.90,44.43 473.60,44.04 474.30,44.17 475.00,44.43 475.70,44.84 476.40,44.08 477.10,43.91 477.80,43.02 478.50,44.70 479.20,45.33 479.90,44.47 480.60,43.85 481.30,43.02 482.00,43.61 482.70,43.89 483.40,45.38 484.10,44.68 484.80,43.63 485.50,41.97 486.20,43.91 486.90,43.91 487.60,42.63 488.30,43.29 489.00,42.32 489.70,45.42 490.40,45.15 491.10,44.63 491.80,43.85 492.50,42.11 493.20,42.72 493.90,41.98 494.60,43.13 495.30,41.72 496.00,41.93 496.70,43.49 497.40,44.48 498.10,42.93 498.80,41.96 499.50,43.20 500.20,43.74 500.90,42.73 501.60,42.49 502.30,42.40 503.00,42.02 503.70,42.22 504.40,43.68 505.10,43.96 505.80,45.05 506.50,44.06 507.20,43.59 507.90,42.80 508.60,43.06 509.30,42.36 510.00,41.73 510.70,43.20 511.40,44.39 512.10,44.52 512.80,44.93 513.50,44.38 514.20,43.47 514.90,43.63 515.60,43.40 516.30,42.79 517.00,42.12 517.70,41.98 518.40,42.97 519.10,43.54 519.80,43.37 520.50,44.64 521.20,44.35 521.90,44.51 522.60,45.05 523.30,43.88 524.00,42.56 524.70,43.88 525.40,43.40 526.10,44.49 526.80,44.23 527.50,44.52 528.20,44.41 528.90,42.30 529.60,43.25 530.30,42.63 531.00,42.23 531.70,42.20 532.40,42.97 533.10,43.33 533.80,43.51 534.50,41.66 535.20,41.51 535.90,40.12 536.60,41.02 537.30,41.85 538.00,41.21 538.70,41.55 539.40,41.63 540.10,42.17 540.80,41.25 541.50,40.87 542.20,40.78 542.90,42.54 543.60,42.90 544.30,42.26 545.00,42.25 545.70,42.21 546.40,42.29 547.10,42.08 547.80,41.93 548.50,41.26 549.20,41.42 549.90,43.14 550.60,43.17 551.30,42.90 552.00,42.61 552.70,42.72 553.40,43.01 554.10,42.48 554.80,42.87 555.50,43.11 556.20,42.57 556.90,42.33 557.60,42.12 558.30,42.02 559.00,43.38 559.70,41.75 560.40,42.33 561.10,42.12 561.80,41.87 562.50,42.10 563.20,42.78 563.90,42.19 564.60,41.62 565.30,40.88 566.00,40.73 566.70,41.24 567.40,40.40 568.10,39.40 568.80,39.12 569.50,39.19 570.20,39.10 570.90,40.89 571.60,41.26 572.30,41.09 573.00,42.29 573.70,41.43 574.40,42.11 575.10,42.53 575.80,41.17 576.50,40.63 577.20,40.91 577.90,42.40 578.60,43.43 579.30,42.21 580.00,43.34 580.70,42.92 581.40,42.81 582.10,42.73 582.80,42.94 583.50,42.07 584.20,42.33 584.90,42.37 585.60,43.68 586.30,45.47 587.00,46.80 587.70,45.10 588.40,43.31 589.10,43.38 589.80,42.99 590.50,44.80 591.20,44.58 591.90,43.52 592.60,44.16 593.30,44.12 594.00,42.54 594.70,42.54 595.40,42.69 596.10,42.90 596.80,43.01 597.50,42.69 598.20,42.86 598.90,42.34 599.60,41.85 600.30,43.29 601.00,43.13 601.70,43.09 602.40,41.64 603.10,41.97 603.80,42.79 604.50,41.67 605.20,42.82 605.90,42.29 606.60,42.58 607.30,42.33 608.00,42.44 608.70,43.17 609.40,42.35 610.10,43.35 610.80,42.14 611.50,41.48 612.20,42.31 612.90,41.43 613.60,41.50 614.30,42.41 615.00,43.02 615.70,41.19 616.40,41.95 617.10,43.24 617.80,43.32 618.50,42.34 619.20,41.63 619.90,41.50 620.60,40.86 621.30,41.19 622.00,41.39 622.70,41.52 623.40,42.50 624.10,41.95 624.80,40.85 625.50,42.11 626.20,41.19 626.90,41.21 627.60,41.44 628.30,41.40 629.00,40.92 629.70,41.23 630.40,43.07 631.10,41.95 631.80,41.77 632.50,42.57 633.20,42.67 633.90,42.73 634.60,42.82 635.30,40.88 636.00,40.78 636.70,41.43 637.40,41.98 638.10,42.79 638.80,42.57 639.50,41.98 640.20,41.91 640.90,41.71 641.60,41.94 642.30,42.35 643.00,41.83 643.70,41.26 644.40,40.98 645.10,42.23 645.80,42.92 646.50,43.03 647.20,42.99 647.90,42.96 648.60,42.37 649.30,42.57 650.00,41.46 650.70,41.56 651.40,41.24 652.10,42.12 652.80,41.60 653.50,41.70 654.20,42.11 654.90,42.96 655.60,41.85 656.30,41.25 657.00,42.21 657.70,41.30 658.40,41.98 659.10,41.58 659.80,41.73 660.50,40.59 661.20,41.86 661.90,41.59" fill="none" stroke="#1530ff" stroke-width="1.6" stroke-linejoin="round" />
<polyline points="467.30,54.62 468.00,56.45 468.70,56.48 469.40,58.40 470.10,57.34 470.80,56.46 471.50,56.45 472.20,57.51 472.90,57.02 473.60,57.19 474.30,57.41 475.00,56.67 475.70,56.87 476.40,56.51 477.10,55.83 477.80,56.87 478.50,57.16 479.20,56.88 479.90,56.07 480.60,54.96 481.30,56.05 482.00,56.12 482.70,55.08 483.40,55.64 484.10,54.90 484.80,55.51 485.50,55.85 486.20,56.11 486.90,56.10 487.60,56.03 488.30,55.11 489.00,55.15 489.70,55.05 490.40,55.11 491.10,55.37 491.80,55.64 492.50,56.34 493.20,53.85 493.90,54.58 494.60,54.44 495.30,56.02 496.00,55.96 496.70,54.31 497.40,54.96 498.10,54.71 498.80,55.63 499.50,54.77 500.20,55.05 500.90,55.22 501.60,55.37 502.30,55.17 503.00,54.32 503.70,55.49 504.40,56.42 505.10,56.32 505.80,56.54 506.50,57.97 507.20,59.39 507.90,59.53 508.60,59.52 509.30,60.45 510.00,59.23 510.70,59.05 511.40,58.10 512.10,58.46 512.80,58.60 513.50,58.53 514.20,58.68 514.90,60.37 515.60,59.84 516.30,59.66 517.00,61.09 517.70,60.27 518.40,58.82 519.10,59.56 519.80,59.03 520.50,60.37 521.20,59.00 521.90,58.73 522.60,57.87 523.30,58.51 524.00,58.00 524.70,58.31 525.40,58.34 526.10,58.33 526.80,59.42 527.50,59.99 528.20,59.76 528.90,59.11 529.60,58.78 530.30,59.59 531.00,61.41 531.70,60.46 532.40,59.90 533.10,59.79 533.80,59.56 534.50,59.62 535.20,60.23 535.90,61.66 536.60,61.45 537.30,61.12 538.00,60.34 538.70,61.26 539.40,61.60 540.10,61.07 540.80,61.00 541.50,61.74 542.20,62.84 542.90,63.17 543.60,62.91 544.30,62.37 545.00,62.48 545.70,62.26 546.40,63.52 547.10,61.88 547.80,61.58 548.50,62.44 549.20,61.78 549.90,62.52 550.60,61.83 551.30,61.59 552.00,61.09 552.70,60.31 553.40,60.26 554.10,62.34 554.80,62.29 555.50,62.27 556.20,62.53 556.90,62.42 557.60,62.70 558.30,62.02 559.00,61.78 559.70,62.48 560.40,61.97 561.10,61.13 561.80,61.50 562.50,61.50 563.20,62.28 563.90,61.80 564.60,61.39 565.30,61.75 566.00,63.22 566.70,62.91 567.40,62.97 568.10,62.97 568.80,63.23 569.50,63.82 570.20,64.46 570.90,62.85 571.60,64.14 572.30,63.91 573.00,63.66 573.70,65.39 574.40,64.57 575.10,65.64 575.80,65.56 576.50,64.29 577.20,64.78 577.90,65.23 578.60,64.94 579.30,63.45 580.00,64.13 580.70,64.60 581.40,64.29 582.10,66.12 582.80,65.66 583.50,65.42 584.20,65.44 584.90,65.20 585.60,65.16 586.30,65.78 587.00,66.26 587.70,66.01 588.40,66.24 589.10,65.56 589.80,66.56 590.50,66.20 591.20,66.68 591.90,66.19 592.60,66.25 593.30,66.78 594.00,66.12 594.70,68.24 595.40,67.59 596.10,67.30 596.80,66.76 597.50,68.06 598.20,68.53 598.90,68.07 599.60,67.04 600.30,67.34 601.00,69.55 601.70,71.10 602.40,72.45 603.10,72.73 603.80,72.88 604.50,73.46 605.20,73.29 605.90,73.65 606.60,75.62 607.30,75.84 608.00,74.12 608.70,74.24 609.40,74.13 610.10,73.94 610.80,74.62 611.50,74.04 612.20,73.78 612.90,73.64 613.60,73.75 614.30,74.71 615.00,74.81 615.70,73.48 616.40,73.47 617.10,73.24 617.80,74.18 618.50,74.22 619.20,74.68 619.90,74.27 620.60,72.89 621.30,73.81 622.00,74.08 622.70,74.39 623.40,73.36 624.10,73.80 624.80,73.51 625.50,73.38 626.20,74.00 626.90,74.29 627.60,73.61 628.30,72.78 629.00,71.92 629.70,72.77 630.40,74.26 631.10,74.17 631.80,72.71 632.50,72.96 633.20,73.91 633.90,75.16 634.60,75.40 635.30,74.99 636.00,74.70 636.70,73.76 637.40,73.74 638.10,73.81 638.80,73.56 639.50,74.00 640.20,73.91 640.90,74.34 641.60,75.26 642.30,75.23 643.00,75.01 643.70,74.48 644.40,73.42 645.10,73.87 645.80,74.50 646.50,73.78 647.20,74.93 647.90,74.42 648.60,74.66 649.30,74.31 650.00,73.56 650.70,75.39 651.40,74.12 652.10,74.90 652.80,74.30 653.50,74.58 654.20,74.01 654.90,74.01 655.60,74.88 656.30,75.95 657.00,74.62 657.70,74.58 658.40,75.18 659.10,74.43 659.80,74.97 660.50,74.24 661.20,74.83 661.90,74.98" fill="none" stroke="#ff1010" stroke-width="1.6" stroke-linejoin="round" />
<polyline points="467.30,125.01 468.10,124.86 468.90,124.02 469.70,124.57 470.50,123.94 471.30,124.58 472.10,125.25 472.90,125.10 473.70,124.46 474.50,125.04 475.30,124.80 476.10,123.98 476.90,124.06 477.70,124.99 478.50,124.55 479.30,124.56 480.10,124.34 480.90,123.57 481.70,123.81 482.50,124.36 483.30,124.53 484.10,124.42 484.90,123.39 485.70,124.61 486.50,124.91 487.30,125.20 488.10,125.47 488.90,124.72 489.70,124.31 490.50,124.58 491.30,125.39 492.10,124.07 492.90,124.21 493.70,124.03 494.50,124.59 495.30,125.30 496.10,124.74 496.90,124.02 497.70,124.34 498.50,124.32 499.30,123.68 500.10,124.61 500.90,124.33 501.70,124.81 502.50,124.03 503.30,124.88 504.10,124.00 504.90,124.86 505.70,123.81 506.50,124.94 507.30,124.57 508.10,123.81 508.90,124.14 509.70,124.57 510.50,124.11 511.30,124.15 512.10,124.55 512.90,124.51 513.70,123.05 514.50,123.71 515.30,124.44 516.10,124.71 516.90,125.18 517.70,124.55 518.50,125.89 519.30,125.62 520.10,125.26 520.90,125.48 521.70,125.52 522.50,125.11 523.30,124.57 524.10,125.15 524.90,125.11 525.70,123.94 526.50,123.81 527.30,124.54 528.10,124.69 528.90,124.85 529.70,125.10 530.50,124.97 531.30,125.63 532.10,124.84 532.90,124.59 533.70,124.83 534.50,125.16 535.30,125.33 536.10,125.76 536.90,124.97 537.70,125.44 538.50,125.30 539.30,124.49 540.10,124.58 540.90,125.73 541.70,125.59 542.50,124.78 543.30,122.84 544.10,121.94 544.90,122.08 545.70,123.69 546.50,125.69 547.30,125.63 548.10,125.34 549.30,125.50 550.20,101.00 551.30,140.50 554.90,83.80 556.00,153.50 558.80,106.50 560.40,140.50 563.20,87.70 564.30,155.90 567.00,110.00 568.50,142.10 571.30,93.20 572.60,159.80 576.00,111.00 577.10,145.70 578.60,127.50 579.60,124.75 580.40,124.28 581.20,124.57 582.00,124.57 582.80,126.31 583.60,125.38 584.40,124.87 585.20,125.51 586.00,125.27 586.80,124.51 587.60,125.44 588.40,125.05 589.20,124.37 590.00,124.90 590.80,125.22 591.60,124.95 592.40,125.35 593.20,125.59 594.00,124.86 594.80,123.94 595.60,123.36 596.40,124.23 597.20,125.31 598.00,125.68 598.80,126.04 599.60,126.44 600.40,125.70 601.20,125.89 602.00,124.69 602.80,125.26 603.60,125.37 604.40,125.18 605.20,124.92 606.00,124.47 606.80,124.90 607.60,125.66 608.40,125.18 609.20,125.42 610.00,124.93 610.80,125.17 611.60,124.65 612.40,125.11 613.20,125.02 614.00,125.25 614.80,124.90 615.60,124.46 616.40,124.68 617.20,125.47 618.00,126.10 618.80,125.43 619.60,125.69 620.40,125.79 621.20,125.66 622.00,124.63 622.80,125.10 623.60,124.67 624.40,125.56 625.20,125.76 626.00,125.77 626.80,124.20 627.60,125.07 628.40,125.51 629.20,124.72 630.00,125.49 630.80,125.39 631.60,125.22 632.40,124.88 633.20,124.58 634.00,124.73 634.80,126.57 635.60,125.95 636.40,125.68 637.20,125.13 638.00,124.90 638.80,124.84 639.60,124.64 640.40,125.43 641.20,125.22 642.00,125.70 642.80,124.90 643.60,125.59 644.40,125.42 645.20,125.70 646.00,125.44 646.80,124.93 647.60,125.75 648.40,125.30 649.20,125.25 650.00,124.85 650.80,125.23 651.60,125.10 652.40,125.38 653.20,125.54 654.00,125.10 654.80,124.54 655.60,125.21 656.40,125.76 657.20,125.90 658.00,125.04 658.80,125.53 659.60,125.64 660.40,125.65 661.20,125.72 662.00,125.38" fill="none" stroke="#111" stroke-width="1.3" stroke-linejoin="round" />
<text x="661.30" y="27.50" font-size="9" text-anchor="end" fill="#222" >-UV</text>
<text x="661.30" y="39.80" font-size="9" text-anchor="end" fill="#222" >+UV</text>
<text x="660.60" y="65.70" font-size="9" text-anchor="end" fill="#222" >cisPt(IV)-1 -UV</text>
<text x="594.60" y="117.50" font-size="9" text-anchor="start" fill="#222" >cisPt(IV)-1 +UV</text>
<text x="2.40" y="218.40" font-size="22" text-anchor="start" fill="#000" font-weight="bold" >d</text>
<rect x="33.80" y="225.30" width="198.50" height="132.20" fill="none" stroke="#444" stroke-width="1" />
<line x1="30.30" y1="357.50" x2="33.80" y2="357.50" stroke="#444" stroke-width="1" />
<text x="28.30" y="360.40" font-size="8" text-anchor="end" fill="#222" >0</text>
<line x1="30.30" y1="316.06" x2="33.80" y2="316.06" stroke="#444" stroke-width="1" />
<text x="28.30" y="318.96" font-size="8" text-anchor="end" fill="#222" >50</text>
<line x1="30.30" y1="274.63" x2="33.80" y2="274.63" stroke="#444" stroke-width="1" />
<text x="28.30" y="277.53" font-size="8" text-anchor="end" fill="#222" >100</text>
<line x1="30.30" y1="233.19" x2="33.80" y2="233.19" stroke="#444" stroke-width="1" />
<text x="28.30" y="236.09" font-size="8" text-anchor="end" fill="#222" >150</text>
<rect x="47.10" y="313.30" width="22.80" height="44.20" fill="#a2a2a8" stroke="#000" stroke-width="1.4" />
<line x1="58.50" y1="357.50" x2="58.50" y2="361.00" stroke="#444" stroke-width="1" />
<text x="58.50" y="370.50" font-size="8.3" text-anchor="middle" fill="#222" >0</text>
<rect x="83.90" y="298.20" width="23.00" height="59.30" fill="#7f7f7f" stroke="#000" stroke-width="1.4" />
<line x1="95.40" y1="357.50" x2="95.40" y2="361.00" stroke="#444" stroke-width="1" />
<text x="95.40" y="370.50" font-size="8.3" text-anchor="middle" fill="#222" >0.1</text>
<rect x="121.00" y="280.10" width="23.20" height="77.40" fill="#606060" stroke="#000" stroke-width="1.4" />
<line x1="132.60" y1="357.50" x2="132.60" y2="361.00" stroke="#444" stroke-width="1" />
<text x="132.60" y="370.50" font-size="8.3" text-anchor="middle" fill="#222" >1</text>
<rect x="158.50" y="252.20" width="23.20" height="105.30" fill="#343434" stroke="#000" stroke-width="1.4" />
<line x1="170.10" y1="357.50" x2="170.10" y2="361.00" stroke="#444" stroke-width="1" />
<text x="170.10" y="370.50" font-size="8.3" text-anchor="middle" fill="#222" >10</text>
<rect x="195.50" y="232.80" width="23.60" height="124.70" fill="#000" stroke="#000" stroke-width="1.4" />
<line x1="207.30" y1="357.50" x2="207.30" y2="361.00" stroke="#444" stroke-width="1" />
<text x="207.30" y="370.50" font-size="8.3" text-anchor="middle" fill="#222" >100</text>
<text x="130.00" y="382.10" font-size="8.3" text-anchor="middle" fill="#222" >DMPO (mM)</text>
<text transform="translate(12.3,292.4) rotate(-90)" font-size="8.2" text-anchor="middle" fill="#222">cisplatin (μM)</text>
<text x="236.00" y="218.60" font-size="22" text-anchor="start" fill="#000" font-weight="bold" >e</text>
<line x1="258.90" y1="223.30" x2="441.40" y2="223.30" stroke="#333" stroke-width="1" />
<line x1="258.90" y1="223.30" x2="258.90" y2="356.60" stroke="#333" stroke-width="1" />
<line x1="258.90" y1="356.60" x2="441.40" y2="356.60" stroke="#333" stroke-width="1" />
<line x1="441.40" y1="223.30" x2="441.40" y2="356.60" stroke="#999" stroke-width="1" />
<line x1="257.20" y1="356.38" x2="258.90" y2="356.38" stroke="#333" stroke-width="1" />
<line x1="256.00" y1="345.30" x2="258.90" y2="345.30" stroke="#333" stroke-width="1" />
<line x1="257.20" y1="334.22" x2="258.90" y2="334.22" stroke="#333" stroke-width="1" />
<line x1="256.00" y1="323.14" x2="258.90" y2="323.14" stroke="#333" stroke-width="1" />
<line x1="257.20" y1="312.06" x2="258.90" y2="312.06" stroke="#333" stroke-width="1" />
<line x1="256.00" y1="300.98" x2="258.90" y2="300.98" stroke="#333" stroke-width="1" />
<line x1="257.20" y1="289.90" x2="258.90" y2="289.90" stroke="#333" stroke-width="1" />
<line x1="256.00" y1="278.82" x2="258.90" y2="278.82" stroke="#333" stroke-width="1" />
<line x1="257.20" y1="267.74" x2="258.90" y2="267.74" stroke="#333" stroke-width="1" />
<line x1="256.00" y1="256.66" x2="258.90" y2="256.66" stroke="#333" stroke-width="1" />
<line x1="257.20" y1="245.58" x2="258.90" y2="245.58" stroke="#333" stroke-width="1" />
<line x1="256.00" y1="234.50" x2="258.90" y2="234.50" stroke="#333" stroke-width="1" />
<line x1="257.20" y1="223.42" x2="258.90" y2="223.42" stroke="#333" stroke-width="1" />
<text x="255.00" y="348.30" font-size="8.5" text-anchor="end" fill="#222" >0</text>
<text x="255.00" y="326.14" font-size="8.5" text-anchor="end" fill="#222" >20</text>
<text x="255.00" y="303.98" font-size="8.5" text-anchor="end" fill="#222" >40</text>
<text x="255.00" y="281.82" font-size="8.5" text-anchor="end" fill="#222" >60</text>
<text x="255.00" y="259.66" font-size="8.5" text-anchor="end" fill="#222" >80</text>
<text x="255.00" y="237.50" font-size="8.5" text-anchor="end" fill="#222" >100</text>
<line x1="267.90" y1="356.60" x2="267.90" y2="359.50" stroke="#333" stroke-width="1" />
<line x1="276.14" y1="356.60" x2="276.14" y2="358.30" stroke="#333" stroke-width="1" />
<line x1="284.38" y1="356.60" x2="284.38" y2="359.50" stroke="#333" stroke-width="1" />
<line x1="292.62" y1="356.60" x2="292.62" y2="358.30" stroke="#333" stroke-width="1" />
<line x1="300.86" y1="356.60" x2="300.86" y2="359.50" stroke="#333" stroke-width="1" />
<line x1="309.10" y1="356.60" x2="309.10" y2="358.30" stroke="#333" stroke-width="1" />
<line x1="317.34" y1="356.60" x2="317.34" y2="359.50" stroke="#333" stroke-width="1" />
<line x1="325.58" y1="356.60" x2="325.58" y2="358.30" stroke="#333" stroke-width="1" />
<line x1="333.82" y1="356.60" x2="333.82" y2="359.50" stroke="#333" stroke-width="1" />
<line x1="342.06" y1="356.60" x2="342.06" y2="358.30" stroke="#333" stroke-width="1" />
<line x1="350.30" y1="356.60" x2="350.30" y2="359.50" stroke="#333" stroke-width="1" />
<line x1="358.54" y1="356.60" x2="358.54" y2="358.30" stroke="#333" stroke-width="1" />
<line x1="366.78" y1="356.60" x2="366.78" y2="359.50" stroke="#333" stroke-width="1" />
<line x1="375.02" y1="356.60" x2="375.02" y2="358.30" stroke="#333" stroke-width="1" />
<line x1="383.26" y1="356.60" x2="383.26" y2="359.50" stroke="#333" stroke-width="1" />
<line x1="391.50" y1="356.60" x2="391.50" y2="358.30" stroke="#333" stroke-width="1" />
<line x1="399.74" y1="356.60" x2="399.74" y2="359.50" stroke="#333" stroke-width="1" />
<line x1="407.98" y1="356.60" x2="407.98" y2="358.30" stroke="#333" stroke-width="1" />
<line x1="416.22" y1="356.60" x2="416.22" y2="359.50" stroke="#333" stroke-width="1" />
<line x1="424.46" y1="356.60" x2="424.46" y2="358.30" stroke="#333" stroke-width="1" />
<line x1="432.70" y1="356.60" x2="432.70" y2="359.50" stroke="#333" stroke-width="1" />
<text x="267.90" y="368.30" font-size="8.5" text-anchor="middle" fill="#222" >0</text>
<text x="284.38" y="368.30" font-size="8.5" text-anchor="middle" fill="#222" >1</text>
<text x="300.86" y="368.30" font-size="8.5" text-anchor="middle" fill="#222" >2</text>
<text x="317.34" y="368.30" font-size="8.5" text-anchor="middle" fill="#222" >3</text>
<text x="333.82" y="368.30" font-size="8.5" text-anchor="middle" fill="#222" >4</text>
<text x="350.30" y="368.30" font-size="8.5" text-anchor="middle" fill="#222" >5</text>
<text x="366.78" y="368.30" font-size="8.5" text-anchor="middle" fill="#222" >6</text>
<text x="383.26" y="368.30" font-size="8.5" text-anchor="middle" fill="#222" >7</text>
<text x="399.74" y="368.30" font-size="8.5" text-anchor="middle" fill="#222" >8</text>
<text x="416.22" y="368.30" font-size="8.5" text-anchor="middle" fill="#222" >9</text>
<text x="432.70" y="368.30" font-size="8.5" text-anchor="middle" fill="#222" >10</text>
<text x="352.20" y="376.90" font-size="8.5" text-anchor="middle" fill="#222" >Irradiation time (min)</text>
<text transform="translate(242.4,290.0) rotate(-90)" font-size="8.3" text-anchor="middle" fill="#222">Remaining cisPt(IV)-1 (%)</text>
<polyline points="267.90,234.50 276.14,267.74 284.38,302.09 300.86,328.68 317.34,332.56 333.82,336.44 350.30,340.87 432.70,343.64" fill="none" stroke="#111" stroke-width="1.4" stroke-linejoin="round" />
<polyline points="267.90,234.50 276.14,273.28 284.38,298.76 300.86,326.46 317.34,333.11 333.82,337.54 350.30,340.31 432.70,343.64" fill="none" stroke="#f00" stroke-width="1.4" stroke-linejoin="round" />
<polyline points="267.90,234.50 276.14,267.19 284.38,292.12 300.86,319.82 317.34,333.67 333.82,338.65 350.30,341.42 432.70,344.75" fill="none" stroke="#00f" stroke-width="1.4" stroke-linejoin="round" />
<rect x="266.10" y="232.70" width="3.60" height="3.60" fill="#111" stroke="none" stroke-width="1" />
<rect x="274.34" y="265.94" width="3.60" height="3.60" fill="#111" stroke="none" stroke-width="1" />
<rect x="282.58" y="300.29" width="3.60" height="3.60" fill="#111" stroke="none" stroke-width="1" />
<rect x="299.06" y="326.88" width="3.60" height="3.60" fill="#111" stroke="none" stroke-width="1" />
<rect x="315.54" y="330.76" width="3.60" height="3.60" fill="#111" stroke="none" stroke-width="1" />
<rect x="332.02" y="334.64" width="3.60" height="3.60" fill="#111" stroke="none" stroke-width="1" />
<rect x="348.50" y="339.07" width="3.60" height="3.60" fill="#111" stroke="none" stroke-width="1" />
<rect x="430.90" y="341.84" width="3.60" height="3.60" fill="#111" stroke="none" stroke-width="1" />
<circle cx="267.90" cy="234.50" r="1.9" fill="#f00"/>
<circle cx="276.14" cy="273.28" r="1.9" fill="#f00"/>
<circle cx="284.38" cy="298.76" r="1.9" fill="#f00"/>
<circle cx="300.86" cy="326.46" r="1.9" fill="#f00"/>
<circle cx="317.34" cy="333.11" r="1.9" fill="#f00"/>
<circle cx="333.82" cy="337.54" r="1.9" fill="#f00"/>
<circle cx="350.30" cy="340.31" r="1.9" fill="#f00"/>
<circle cx="432.70" cy="343.64" r="1.9" fill="#f00"/>
<polygon points="267.90,232.20 270.10,236.00 265.70,236.00" fill="#00f"/>
<polygon points="276.14,264.89 278.34,268.69 273.94,268.69" fill="#00f"/>
<polygon points="284.38,289.82 286.58,293.62 282.18,293.62" fill="#00f"/>
<polygon points="300.86,317.52 303.06,321.32 298.66,321.32" fill="#00f"/>
<polygon points="317.34,331.37 319.54,335.17 315.14,335.17" fill="#00f"/>
<polygon points="333.82,336.35 336.02,340.15 331.62,340.15" fill="#00f"/>
<polygon points="350.30,339.12 352.50,342.92 348.10,342.92" fill="#00f"/>
<polygon points="432.70,342.45 434.90,346.25 430.50,346.25" fill="#00f"/>
<line x1="316.60" y1="233.70" x2="334.70" y2="233.70" stroke="#333" stroke-width="1.2" />
<circle cx="325.7" cy="233.70" r="1.9" fill="#000"/>
<text x="338.10" y="236.70" font-size="8.3" text-anchor="start" fill="#222" >cisPt(IV)-1+UV</text>
<line x1="316.60" y1="244.10" x2="334.70" y2="244.10" stroke="#f00" stroke-width="1.2" />
<circle cx="325.7" cy="244.10" r="1.6" fill="#f00"/>
<text x="338.10" y="247.10" font-size="8.3" text-anchor="start" fill="#222" >cisPt(IV)-1+DMPO+UV</text>
<line x1="316.60" y1="254.50" x2="334.70" y2="254.50" stroke="#00f" stroke-width="1.2" />
<polygon points="325.7,252.50 327.6,255.80 323.8,255.80" fill="#00f"/>
<text x="338.10" y="257.50" font-size="8.3" text-anchor="start" fill="#222" >cisPt(IV)-1+TEMPO+UV</text>
<text x="446.30" y="218.40" font-size="22" text-anchor="start" fill="#000" font-weight="bold" >f</text>
<rect x="488.30" y="223.30" width="181.40" height="133.70" fill="none" stroke="#333" stroke-width="1" />
<line x1="486.60" y1="356.72" x2="488.30" y2="356.72" stroke="#333" stroke-width="1" />
<line x1="485.40" y1="346.40" x2="488.30" y2="346.40" stroke="#333" stroke-width="1" />
<line x1="486.60" y1="336.07" x2="488.30" y2="336.07" stroke="#333" stroke-width="1" />
<line x1="485.40" y1="325.75" x2="488.30" y2="325.75" stroke="#333" stroke-width="1" />
<line x1="486.60" y1="315.42" x2="488.30" y2="315.42" stroke="#333" stroke-width="1" />
<line x1="485.40" y1="305.10" x2="488.30" y2="305.10" stroke="#333" stroke-width="1" />
<line x1="486.60" y1="294.77" x2="488.30" y2="294.77" stroke="#333" stroke-width="1" />
<line x1="485.40" y1="284.45" x2="488.30" y2="284.45" stroke="#333" stroke-width="1" />
<line x1="486.60" y1="274.12" x2="488.30" y2="274.12" stroke="#333" stroke-width="1" />
<line x1="485.40" y1="263.80" x2="488.30" y2="263.80" stroke="#333" stroke-width="1" />
<line x1="486.60" y1="253.47" x2="488.30" y2="253.47" stroke="#333" stroke-width="1" />
<line x1="485.40" y1="243.15" x2="488.30" y2="243.15" stroke="#333" stroke-width="1" />
<line x1="486.60" y1="232.82" x2="488.30" y2="232.82" stroke="#333" stroke-width="1" />
<line x1="485.40" y1="222.50" x2="488.30" y2="222.50" stroke="#333" stroke-width="1" />
<text transform="translate(484.0,349.90) scale(1,1.14)" font-size="7.2" text-anchor="end" fill="#222">0.00E+00</text>
<text transform="translate(484.0,329.25) scale(1,1.14)" font-size="7.2" text-anchor="end" fill="#222">5.00E+07</text>
<text transform="translate(484.0,308.60) scale(1,1.14)" font-size="7.2" text-anchor="end" fill="#222">1.00E+08</text>
<text transform="translate(484.0,287.95) scale(1,1.14)" font-size="7.2" text-anchor="end" fill="#222">1.50E+08</text>
<text transform="translate(484.0,267.30) scale(1,1.14)" font-size="7.2" text-anchor="end" fill="#222">2.00E+08</text>
<text transform="translate(484.0,246.65) scale(1,1.14)" font-size="7.2" text-anchor="end" fill="#222">2.50E+08</text>
<text transform="translate(484.0,226.00) scale(1,1.14)" font-size="7.2" text-anchor="end" fill="#222">3.00E+08</text>
<line x1="488.30" y1="357.00" x2="488.30" y2="359.90" stroke="#333" stroke-width="1" />
<line x1="510.96" y1="357.00" x2="510.96" y2="358.70" stroke="#333" stroke-width="1" />
<line x1="533.61" y1="357.00" x2="533.61" y2="359.90" stroke="#333" stroke-width="1" />
<line x1="556.26" y1="357.00" x2="556.26" y2="358.70" stroke="#333" stroke-width="1" />
<line x1="578.92" y1="357.00" x2="578.92" y2="359.90" stroke="#333" stroke-width="1" />
<line x1="601.58" y1="357.00" x2="601.58" y2="358.70" stroke="#333" stroke-width="1" />
<line x1="624.23" y1="357.00" x2="624.23" y2="359.90" stroke="#333" stroke-width="1" />
<line x1="646.88" y1="357.00" x2="646.88" y2="358.70" stroke="#333" stroke-width="1" />
<line x1="669.54" y1="357.00" x2="669.54" y2="359.90" stroke="#333" stroke-width="1" />
<text x="488.30" y="367.60" font-size="8" text-anchor="middle" fill="#222" >500</text>
<text x="533.61" y="367.60" font-size="8" text-anchor="middle" fill="#222" >550</text>
<text x="578.92" y="367.60" font-size="8" text-anchor="middle" fill="#222" >600</text>
<text x="624.23" y="367.60" font-size="8" text-anchor="middle" fill="#222" >650</text>
<text x="669.54" y="367.60" font-size="8" text-anchor="middle" fill="#222" >700</text>
<text x="579.30" y="376.20" font-size="8.6" text-anchor="middle" fill="#222" >Wavelength (nm)</text>
<text transform="translate(450.8,286.0) rotate(-90)" font-size="8.25" text-anchor="middle" fill="#222">Fluorescence intensity</text>
<path d="M488.40,334.80 C489.13,332.83 491.40,327.57 492.80,323.00 C494.20,318.43 495.48,313.28 496.80,307.40 C498.12,301.52 499.40,294.57 500.70,287.70 C502.00,280.83 503.47,272.40 504.60,266.20 C505.73,260.00 506.52,254.92 507.50,250.50 C508.48,246.08 509.35,242.38 510.50,239.70 C511.65,237.02 513.10,234.88 514.40,234.40 C515.70,233.92 516.98,234.77 518.30,236.80 C519.62,238.83 520.98,243.02 522.30,246.60 C523.62,250.18 524.90,254.05 526.20,258.30 C527.50,262.55 528.80,267.52 530.10,272.10 C531.40,276.68 532.68,281.57 534.00,285.80 C535.32,290.03 536.68,293.97 538.00,297.50 C539.32,301.03 540.60,304.22 541.90,307.00 C543.20,309.78 544.50,312.18 545.80,314.20 C547.10,316.22 548.40,317.80 549.70,319.10 C551.00,320.40 552.30,321.22 553.60,322.00 C554.90,322.78 556.18,323.20 557.50,323.80 C558.82,324.40 560.18,324.90 561.50,325.60 C562.82,326.30 564.10,327.07 565.40,328.00 C566.70,328.93 568.00,330.13 569.30,331.20 C570.60,332.27 571.88,333.45 573.20,334.40 C574.52,335.35 575.88,336.22 577.20,336.90 C578.52,337.58 579.38,337.95 581.10,338.50 C582.82,339.05 584.48,339.55 587.50,340.20 C590.52,340.85 595.30,341.73 599.20,342.40 C603.10,343.07 607.00,343.70 610.90,344.20 C614.80,344.70 618.47,345.10 622.60,345.40 C626.73,345.70 630.83,345.83 635.70,346.00 C640.57,346.17 646.17,346.30 651.80,346.40 C657.43,346.50 666.55,346.57 669.50,346.60" fill="none" stroke="#ff22ff" stroke-width="1.3"/>
<polyline points="488.30,345.79 490.31,345.62 492.33,345.42 494.34,345.19 496.36,344.94 498.37,344.68 500.38,344.41 502.40,344.15 504.41,343.90 506.42,343.69 508.44,343.51 510.45,343.38 512.47,343.31 514.48,343.31 516.49,343.36 518.51,343.48 520.52,343.65 522.53,343.86 524.55,344.10 526.56,344.36 528.58,344.63 530.59,344.89 532.60,345.14 534.62,345.37 536.63,345.58 538.64,345.75 540.66,345.90 542.67,346.03 544.69,346.12 546.70,346.20 548.71,346.26 550.73,346.30 552.74,346.33 554.75,346.36 556.77,346.37 558.78,346.38 560.80,346.39 562.81,346.39 564.82,346.40 566.84,346.40 568.85,346.40 570.86,346.40 572.88,346.40 574.89,346.40 576.91,346.40 578.92,346.40 580.93,346.40 582.95,346.40 584.96,346.40 586.98,346.40 588.99,346.40 591.00,346.40 593.02,346.40 595.03,346.40 597.04,346.40 599.06,346.40 601.07,346.40 603.09,346.40 605.10,346.40 607.11,346.40 609.13,346.40 611.14,346.40 613.15,346.40 615.17,346.40 617.18,346.40 619.20,346.40 621.21,346.40 623.22,346.40 625.24,346.40 627.25,346.40 629.26,346.40 631.28,346.40 633.29,346.40 635.31,346.40 637.32,346.40 639.33,346.40 641.35,346.40 643.36,346.40 645.37,346.40 647.39,346.40 649.40,346.40 651.42,346.40 653.43,346.40 655.44,346.40 657.46,346.40 659.47,346.40 661.48,346.40 663.50,346.40 665.51,346.40 667.53,346.40 669.54,346.40" fill="none" stroke="#2a9a2a" stroke-width="1.3" stroke-linejoin="round" />
<polyline points="488.30,345.99 490.31,345.88 492.33,345.74 494.34,345.59 496.36,345.43 498.37,345.25 500.38,345.08 502.40,344.90 504.41,344.74 506.42,344.59 508.44,344.47 510.45,344.39 512.47,344.34 514.48,344.34 516.49,344.38 518.51,344.45 520.52,344.56 522.53,344.71 524.55,344.87 526.56,345.04 528.58,345.22 530.59,345.39 532.60,345.56 534.62,345.72 536.63,345.85 538.64,345.97 540.66,346.07 542.67,346.15 544.69,346.22 546.70,346.27 548.71,346.31 550.73,346.33 552.74,346.36 554.75,346.37 556.77,346.38 558.78,346.39 560.80,346.39 562.81,346.40 564.82,346.40 566.84,346.40 568.85,346.40 570.86,346.40 572.88,346.40 574.89,346.40 576.91,346.40 578.92,346.40 580.93,346.40 582.95,346.40 584.96,346.40 586.98,346.40 588.99,346.40 591.00,346.40 593.02,346.40 595.03,346.40 597.04,346.40 599.06,346.40 601.07,346.40 603.09,346.40 605.10,346.40 607.11,346.40 609.13,346.40 611.14,346.40 613.15,346.40 615.17,346.40 617.18,346.40 619.20,346.40 621.21,346.40 623.22,346.40 625.24,346.40 627.25,346.40 629.26,346.40 631.28,346.40 633.29,346.40 635.31,346.40 637.32,346.40 639.33,346.40 641.35,346.40 643.36,346.40 645.37,346.40 647.39,346.40 649.40,346.40 651.42,346.40 653.43,346.40 655.44,346.40 657.46,346.40 659.47,346.40 661.48,346.40 663.50,346.40 665.51,346.40 667.53,346.40 669.54,346.40" fill="none" stroke="#222" stroke-width="1.3" stroke-linejoin="round" />
<polyline points="488.30,346.11 490.31,346.03 492.33,345.94 494.34,345.84 496.36,345.72 498.37,345.60 500.38,345.47 502.40,345.35 504.41,345.24 506.42,345.13 508.44,345.05 510.45,344.99 512.47,344.96 514.48,344.96 516.49,344.98 518.51,345.04 520.52,345.12 522.53,345.21 524.55,345.33 526.56,345.45 528.58,345.57 530.59,345.70 532.60,345.81 534.62,345.92 536.63,346.02 538.64,346.10 540.66,346.17 542.67,346.23 544.69,346.27 546.70,346.31 548.71,346.33 550.73,346.35 552.74,346.37 554.75,346.38 556.77,346.39 558.78,346.39 560.80,346.39 562.81,346.40 564.82,346.40 566.84,346.40 568.85,346.40 570.86,346.40 572.88,346.40 574.89,346.40 576.91,346.40 578.92,346.40 580.93,346.40 582.95,346.40 584.96,346.40 586.98,346.40 588.99,346.40 591.00,346.40 593.02,346.40 595.03,346.40 597.04,346.40 599.06,346.40 601.07,346.40 603.09,346.40 605.10,346.40 607.11,346.40 609.13,346.40 611.14,346.40 613.15,346.40 615.17,346.40 617.18,346.40 619.20,346.40 621.21,346.40 623.22,346.40 625.24,346.40 627.25,346.40 629.26,346.40 631.28,346.40 633.29,346.40 635.31,346.40 637.32,346.40 639.33,346.40 641.35,346.40 643.36,346.40 645.37,346.40 647.39,346.40 649.40,346.40 651.42,346.40 653.43,346.40 655.44,346.40 657.46,346.40 659.47,346.40 661.48,346.40 663.50,346.40 665.51,346.40 667.53,346.40 669.54,346.40" fill="none" stroke="#d00" stroke-width="1.2" stroke-linejoin="round" />
<polyline points="488.30,346.15 490.31,346.09 492.33,346.01 494.34,345.92 496.36,345.82 498.37,345.71 500.38,345.61 502.40,345.50 504.41,345.40 506.42,345.31 508.44,345.24 510.45,345.19 512.47,345.17 514.48,345.16 516.49,345.19 518.51,345.23 520.52,345.30 522.53,345.38 524.55,345.48 526.56,345.58 528.58,345.69 530.59,345.80 532.60,345.90 534.62,345.99 536.63,346.07 538.64,346.14 540.66,346.20 542.67,346.25 544.69,346.29 546.70,346.32 548.71,346.34 550.73,346.36 552.74,346.37 554.75,346.38 556.77,346.39 558.78,346.39 560.80,346.40 562.81,346.40 564.82,346.40 566.84,346.40 568.85,346.40 570.86,346.40 572.88,346.40 574.89,346.40 576.91,346.40 578.92,346.40 580.93,346.40 582.95,346.40 584.96,346.40 586.98,346.40 588.99,346.40 591.00,346.40 593.02,346.40 595.03,346.40 597.04,346.40 599.06,346.40 601.07,346.40 603.09,346.40 605.10,346.40 607.11,346.40 609.13,346.40 611.14,346.40 613.15,346.40 615.17,346.40 617.18,346.40 619.20,346.40 621.21,346.40 623.22,346.40 625.24,346.40 627.25,346.40 629.26,346.40 631.28,346.40 633.29,346.40 635.31,346.40 637.32,346.40 639.33,346.40 641.35,346.40 643.36,346.40 645.37,346.40 647.39,346.40 649.40,346.40 651.42,346.40 653.43,346.40 655.44,346.40 657.46,346.40 659.47,346.40 661.48,346.40 663.50,346.40 665.51,346.40 667.53,346.40 669.54,346.40" fill="none" stroke="#22f" stroke-width="1.4" stroke-linejoin="round" />
<polyline points="488.30,346.28 490.31,346.24 492.33,346.20 494.34,346.16 496.36,346.11 498.37,346.06 500.38,346.00 502.40,345.95 504.41,345.90 506.42,345.86 508.44,345.82 510.45,345.80 512.47,345.78 514.48,345.78 516.49,345.79 518.51,345.82 520.52,345.85 522.53,345.89 524.55,345.94 526.56,345.99 528.58,346.05 530.59,346.10 532.60,346.15 534.62,346.19 536.63,346.24 538.64,346.27 540.66,346.30 542.67,346.33 544.69,346.34 546.70,346.36 548.71,346.37 550.73,346.38 552.74,346.39 554.75,346.39 556.77,346.39 558.78,346.40 560.80,346.40 562.81,346.40 564.82,346.40 566.84,346.40 568.85,346.40 570.86,346.40 572.88,346.40 574.89,346.40 576.91,346.40 578.92,346.40 580.93,346.40 582.95,346.40 584.96,346.40 586.98,346.40 588.99,346.40 591.00,346.40 593.02,346.40 595.03,346.40 597.04,346.40 599.06,346.40 601.07,346.40 603.09,346.40 605.10,346.40 607.11,346.40 609.13,346.40 611.14,346.40 613.15,346.40 615.17,346.40 617.18,346.40 619.20,346.40 621.21,346.40 623.22,346.40 625.24,346.40 627.25,346.40 629.26,346.40 631.28,346.40 633.29,346.40 635.31,346.40 637.32,346.40 639.33,346.40 641.35,346.40 643.36,346.40 645.37,346.40 647.39,346.40 649.40,346.40 651.42,346.40 653.43,346.40 655.44,346.40 657.46,346.40 659.47,346.40 661.48,346.40 663.50,346.40 665.51,346.40 667.53,346.40 669.54,346.40" fill="none" stroke="#101080" stroke-width="1.8" stroke-linejoin="round" />
<line x1="575.80" y1="234.00" x2="591.90" y2="234.00" stroke="#ff22ff" stroke-width="1.2" />
<text x="594.70" y="237.20" font-size="9" text-anchor="start" fill="#222" >cisPt(IV)-1+UV</text>
<line x1="575.80" y1="245.32" x2="591.90" y2="245.32" stroke="#f00" stroke-width="1.2" />
<text x="594.70" y="248.52" font-size="9" text-anchor="start" fill="#222" >cisplatin+UV</text>
<line x1="575.80" y1="256.64" x2="591.90" y2="256.64" stroke="#333" stroke-width="1.2" />
<text x="594.70" y="259.84" font-size="9" text-anchor="start" fill="#222" >cisPt(IV)-1-UV</text>
<line x1="575.80" y1="267.96" x2="591.90" y2="267.96" stroke="#2a9a2a" stroke-width="1.2" />
<text x="594.70" y="271.16" font-size="9" text-anchor="start" fill="#222" >cisplatin-UV</text>
<line x1="575.80" y1="279.28" x2="591.90" y2="279.28" stroke="#22f" stroke-width="1.2" />
<text x="594.70" y="282.48" font-size="9" text-anchor="start" fill="#222" >-UV</text>
<line x1="575.80" y1="290.60" x2="591.90" y2="290.60" stroke="#1a1a80" stroke-width="1.2" />
<text x="594.70" y="293.80" font-size="9" text-anchor="start" fill="#222" >+UV</text>
<text x="2.50" y="401.00" font-size="22" text-anchor="start" fill="#000" font-weight="bold" >g</text>
<text x="51.00" y="506.76" font-size="11" text-anchor="middle" fill="#111" >Pt</text>
<text x="37.20" y="496.36" font-size="11" text-anchor="end" fill="#111">H<tspan font-size="7.5" dy="2.5">3</tspan><tspan dy="-2.5">N</tspan></text>
<text x="37.20" y="516.56" font-size="11" text-anchor="end" fill="#111">H<tspan font-size="7.5" dy="2.5">3</tspan><tspan dy="-2.5">N</tspan></text>
<text x="69.60" y="496.56" font-size="11" text-anchor="middle" fill="#111" >Cl</text>
<text x="69.60" y="516.56" font-size="11" text-anchor="middle" fill="#111" >Cl</text>
<line x1="39.00" y1="495.70" x2="44.20" y2="498.60" stroke="#111" stroke-width="1.15" />
<line x1="39.00" y1="509.40" x2="44.20" y2="506.50" stroke="#111" stroke-width="1.15" />
<line x1="57.20" y1="499.30" x2="63.30" y2="495.70" stroke="#111" stroke-width="1.15" />
<line x1="57.90" y1="506.50" x2="63.30" y2="509.80" stroke="#111" stroke-width="1.15" />
<text x="50.70" y="486.46" font-size="11" text-anchor="middle" fill="#111" >O</text>
<line x1="51.20" y1="488.60" x2="51.20" y2="496.60" stroke="#111" stroke-width="1.15" />
<line x1="56.20" y1="479.60" x2="68.30" y2="472.80" stroke="#111" stroke-width="1.15" />
<line x1="66.65" y1="472.80" x2="66.65" y2="458.30" stroke="#111" stroke-width="1.05" />
<line x1="69.95" y1="472.80" x2="69.95" y2="458.30" stroke="#111" stroke-width="1.05" />
<text x="68.30" y="456.56" font-size="11" text-anchor="middle" fill="#111" >O</text>
<line x1="68.30" y1="472.80" x2="86.30" y2="483.20" stroke="#111" stroke-width="1.15" />
<text x="50.70" y="526.76" font-size="11" text-anchor="middle" fill="#111" >O</text>
<line x1="51.20" y1="508.70" x2="51.20" y2="516.20" stroke="#111" stroke-width="1.15" />
<line x1="56.20" y1="525.50" x2="68.30" y2="532.20" stroke="#111" stroke-width="1.15" />
<line x1="66.65" y1="532.20" x2="66.65" y2="546.70" stroke="#111" stroke-width="1.05" />
<line x1="69.95" y1="532.20" x2="69.95" y2="546.70" stroke="#111" stroke-width="1.05" />
<text x="68.30" y="556.86" font-size="11" text-anchor="middle" fill="#111" >O</text>
<line x1="68.30" y1="532.20" x2="86.30" y2="522.40" stroke="#111" stroke-width="1.15" />
<text x="120.50" y="507.60" font-size="11" text-anchor="middle" fill="#111" >irradiation</text>
<line x1="94.80" y1="512.10" x2="149.10" y2="512.10" stroke="#111" stroke-width="1.3" />
<path d="M163.10,512.10 L147.10,507.90 Q151.10,512.10 147.10,516.30 Z" fill="#111"/>
<path d="M178.4,445.3 L169.9,445.3 L169.9,563.6 L178.4,563.6" fill="none" stroke="#111" stroke-width="1.2" />
<path d="M256.5,445.3 L264.2,445.3 L264.2,563.6 L256.5,563.6" fill="none" stroke="#111" stroke-width="1.2" />
<path d="M270.50,442.10 L270.50,438.20 M270.50,442.10 L274.21,440.89 M270.50,442.10 L272.79,445.26 M270.50,442.10 L268.21,445.26 M270.50,442.10 L266.79,440.89" fill="none" stroke="#000" stroke-width="1.8" />
<text x="215.80" y="508.06" font-size="11" text-anchor="middle" fill="#111" >Pt</text>
<text x="202.00" y="497.66" font-size="11" text-anchor="end" fill="#111">H<tspan font-size="7.5" dy="2.5">3</tspan><tspan dy="-2.5">N</tspan></text>
<text x="202.00" y="517.86" font-size="11" text-anchor="end" fill="#111">H<tspan font-size="7.5" dy="2.5">3</tspan><tspan dy="-2.5">N</tspan></text>
<text x="234.40" y="497.86" font-size="11" text-anchor="middle" fill="#111" >Cl</text>
<text x="234.40" y="517.86" font-size="11" text-anchor="middle" fill="#111" >Cl</text>
<line x1="203.80" y1="497.00" x2="209.00" y2="499.90" stroke="#111" stroke-width="1.15" />
<line x1="203.80" y1="510.70" x2="209.00" y2="507.80" stroke="#111" stroke-width="1.15" />
<line x1="222.00" y1="500.60" x2="228.10" y2="497.00" stroke="#111" stroke-width="1.15" />
<line x1="222.70" y1="507.80" x2="228.10" y2="511.10" stroke="#111" stroke-width="1.15" />
<text x="215.50" y="487.76" font-size="11" text-anchor="middle" fill="#111" >O</text>
<line x1="216.00" y1="489.90" x2="216.00" y2="497.90" stroke="#111" stroke-width="1.15" />
<line x1="221.00" y1="480.90" x2="233.10" y2="474.10" stroke="#111" stroke-width="1.15" />
<line x1="231.45" y1="474.10" x2="231.45" y2="459.60" stroke="#111" stroke-width="1.05" />
<line x1="234.75" y1="474.10" x2="234.75" y2="459.60" stroke="#111" stroke-width="1.05" />
<text x="233.10" y="457.86" font-size="11" text-anchor="middle" fill="#111" >O</text>
<line x1="233.10" y1="474.10" x2="251.10" y2="484.50" stroke="#111" stroke-width="1.15" />
<text x="215.50" y="528.06" font-size="11" text-anchor="middle" fill="#111" >O</text>
<line x1="216.00" y1="510.00" x2="216.00" y2="517.50" stroke="#111" stroke-width="1.15" />
<line x1="221.00" y1="526.80" x2="233.10" y2="533.50" stroke="#111" stroke-width="1.15" />
<line x1="231.45" y1="533.50" x2="231.45" y2="548.00" stroke="#111" stroke-width="1.05" />
<line x1="234.75" y1="533.50" x2="234.75" y2="548.00" stroke="#111" stroke-width="1.05" />
<text x="233.10" y="558.16" font-size="11" text-anchor="middle" fill="#111" >O</text>
<line x1="233.10" y1="533.50" x2="251.10" y2="523.70" stroke="#111" stroke-width="1.15" />
<path d="M206.00,494.40 C200.30,493.60 198.00,486.10 202.00,483.90" fill="none" stroke="#f01010" stroke-width="1.4"/>
<polygon points="200.80,482.90 206.80,483.20 202.00,485.10" fill="#f01010"/>
<path d="M206.00,514.30 C200.30,513.50 198.00,506.00 202.00,503.80" fill="none" stroke="#f01010" stroke-width="1.4"/>
<polygon points="200.80,502.80 206.80,503.10 202.00,505.00" fill="#f01010"/>
<path d="M225.80,494.20 C232.30,495.10 233.80,502.60 229.60,503.80" fill="none" stroke="#f01010" stroke-width="1.4"/>
<polygon points="225.60,504.50 230.40,502.70 230.90,505.70" fill="#f01010"/>
<path d="M225.80,514.00 C232.30,514.90 233.80,522.40 229.60,523.60" fill="none" stroke="#f01010" stroke-width="1.4"/>
<polygon points="225.60,524.30 230.40,522.50 230.90,525.50" fill="#f01010"/>
<text x="218.50" y="576.30" font-size="11" text-anchor="middle" fill="#111" >LMCT</text>
<text x="302.30" y="489.30" font-size="11" text-anchor="middle" fill="#111" >reductive</text>
<text x="302.20" y="502.20" font-size="11" text-anchor="middle" fill="#111" >elimination</text>
<line x1="274.50" y1="509.70" x2="328.60" y2="509.70" stroke="#111" stroke-width="1.3" />
<path d="M342.60,509.70 L326.60,505.50 Q330.60,509.70 326.60,513.90 Z" fill="#111"/>
<path d="M372.8,420.7 Q359.8,421 359.8,436 L359.8,495 Q359.8,508.6 347.2,509.0 Q359.8,509.4 359.8,523 L359.8,584 Q359.8,598.3 372.8,598.3" fill="none" stroke="#111" stroke-width="1.2" />
<circle cx="371.4" cy="457.6" r="0.85" fill="#111"/>
<text x="380.60" y="461.16" font-size="11" text-anchor="middle" fill="#111" >O</text>
<line x1="384.60" y1="454.80" x2="396.90" y2="447.90" stroke="#111" stroke-width="1.15" />
<line x1="395.25" y1="447.90" x2="395.25" y2="433.20" stroke="#111" stroke-width="1.05" />
<line x1="398.55" y1="447.90" x2="398.55" y2="433.20" stroke="#111" stroke-width="1.05" />
<text x="396.90" y="431.56" font-size="11" text-anchor="middle" fill="#111" >O</text>
<line x1="396.90" y1="447.90" x2="416.10" y2="457.70" stroke="#111" stroke-width="1.15" />
<line x1="418.40" y1="443.20" x2="439.20" y2="443.20" stroke="#111" stroke-width="1.2" />
<path d="M440.1,417.5 L440.1,442 M440.1,444.4 L440.1,472" fill="none" stroke="#111" stroke-width="1.2" />
<line x1="440.10" y1="417.50" x2="494.30" y2="417.50" stroke="#111" stroke-width="1.3" />
<path d="M508.30,417.50 L492.30,413.30 Q496.30,417.50 492.30,421.70 Z" fill="#111"/>
<line x1="440.10" y1="472.00" x2="494.30" y2="472.00" stroke="#111" stroke-width="1.3" />
<path d="M508.30,472.00 L492.30,467.80 Q496.30,472.00 492.30,476.20 Z" fill="#111"/>
<text x="465.1" y="412.2" font-size="11" text-anchor="middle" fill="#111">H<tspan font-size="7.5" dy="2.5">2</tspan><tspan dy="-2.5">O</tspan></text>
<path d="M440.6,472.2 Q465,474 469.8,491.5" fill="none" stroke="#111" stroke-width="1.1" />
<polygon points="469.8,496.2 467.0,489.0 472.6,489.0" fill="#111"/>
<text x="473.3" y="508.0" font-size="11" text-anchor="middle" fill="#111">CO<tspan font-size="7.5" dy="2.5">2</tspan></text>
<text x="528.60" y="428.06" font-size="11" text-anchor="middle" fill="#111" >HO</text>
<line x1="537.70" y1="420.50" x2="549.90" y2="414.20" stroke="#111" stroke-width="1.15" />
<line x1="548.25" y1="414.20" x2="548.25" y2="399.60" stroke="#111" stroke-width="1.05" />
<line x1="551.55" y1="414.20" x2="551.55" y2="399.60" stroke="#111" stroke-width="1.05" />
<text x="549.90" y="397.76" font-size="11" text-anchor="middle" fill="#111" >O</text>
<line x1="549.90" y1="414.20" x2="567.90" y2="424.40" stroke="#111" stroke-width="1.15" />
<circle cx="516.7" cy="472.2" r="0.85" fill="#111"/>
<text x="521.6" y="476.4" font-size="11" fill="#111">CH<tspan font-size="7.5" dy="2.5">3</tspan></text>
<line x1="547.30" y1="472.90" x2="601.60" y2="472.90" stroke="#111" stroke-width="1.3" />
<path d="M615.60,472.90 L599.60,468.70 Q603.60,472.90 599.60,477.10 Z" fill="#111"/>
<text x="577.0" y="467.6" font-size="11" text-anchor="middle" fill="#111">O<tspan font-size="7.5" dy="2.5">2</tspan></text>
<text x="577.8" y="484.2" font-size="11" text-anchor="middle" fill="#111">H<tspan font-size="7.5" dy="2.5">2</tspan><tspan dy="-2.5">O</tspan></text>
<text x="625.60" y="476.40" font-size="11" text-anchor="start" fill="#111" >ROS</text>
<text x="405.20" y="578.06" font-size="11" text-anchor="middle" fill="#111" >Pt</text>
<text x="391.60" y="562.56" font-size="11" text-anchor="end" fill="#111">H<tspan font-size="7.5" dy="2.5">3</tspan><tspan dy="-2.5">N</tspan></text>
<text x="391.60" y="592.76" font-size="11" text-anchor="end" fill="#111">H<tspan font-size="7.5" dy="2.5">3</tspan><tspan dy="-2.5">N</tspan></text>
<text x="424.20" y="563.06" font-size="11" text-anchor="middle" fill="#111" >Cl</text>
<text x="424.20" y="593.26" font-size="11" text-anchor="middle" fill="#111" >Cl</text>
<line x1="392.60" y1="562.90" x2="399.50" y2="568.10" stroke="#111" stroke-width="1.15" />
<line x1="392.60" y1="585.30" x2="399.50" y2="580.10" stroke="#111" stroke-width="1.15" />
<line x1="410.70" y1="568.10" x2="417.60" y2="562.90" stroke="#111" stroke-width="1.15" />
<line x1="410.70" y1="580.10" x2="417.60" y2="585.30" stroke="#111" stroke-width="1.15" />
<text x="459.60" y="570.50" font-size="11" text-anchor="middle" fill="#111" >radicals</text>
<line x1="432.80" y1="574.00" x2="487.10" y2="574.00" stroke="#111" stroke-width="1.3" />
<path d="M501.10,574.00 L485.10,569.80 Q489.10,574.00 485.10,578.20 Z" fill="#111"/>
<path d="M527.7,508.75 Q518.75,509 518.75,520 L518.75,562 Q518.75,572.7 509.1,573.0 Q518.75,573.3 518.75,584 L518.75,626 Q518.75,636.7 527.7,636.7" fill="none" stroke="#111" stroke-width="1.2" />
<text x="532.30" y="521.46" font-size="11" text-anchor="middle" fill="#111" >Cl</text>
<circle cx="543.3" cy="516.7" r="0.85" fill="#111"/>
<text x="547.50" y="545.36" font-size="11" text-anchor="end" fill="#111">H<tspan font-size="7.5" dy="2.5">3</tspan><tspan dy="-2.5">N</tspan></text>
<text x="547.50" y="564.06" font-size="11" text-anchor="end" fill="#111">H<tspan font-size="7.5" dy="2.5">3</tspan><tspan dy="-2.5">N</tspan></text>
<text x="561.00" y="555.16" font-size="11" text-anchor="middle" fill="#111" >Pt</text>
<text x="580.10" y="545.36" font-size="11" text-anchor="middle" fill="#111" >Cl</text>
<line x1="549.60" y1="543.90" x2="555.80" y2="547.00" stroke="#111" stroke-width="1.15" />
<line x1="549.60" y1="558.90" x2="555.80" y2="555.30" stroke="#111" stroke-width="1.15" />
<line x1="567.30" y1="547.00" x2="574.20" y2="543.50" stroke="#111" stroke-width="1.15" />
<circle cx="570.1" cy="557.4" r="0.85" fill="#111"/>
<text x="547.50" y="589.16" font-size="11" text-anchor="end" fill="#111">H<tspan font-size="7.5" dy="2.5">3</tspan><tspan dy="-2.5">N</tspan></text>
<text x="547.50" y="608.56" font-size="11" text-anchor="end" fill="#111">H<tspan font-size="7.5" dy="2.5">3</tspan><tspan dy="-2.5">N</tspan></text>
<text x="561.00" y="598.96" font-size="11" text-anchor="middle" fill="#111" >Pt</text>
<text x="583.10" y="589.16" font-size="11" text-anchor="middle" fill="#111" >OH</text>
<line x1="549.60" y1="587.70" x2="555.80" y2="590.80" stroke="#111" stroke-width="1.15" />
<line x1="549.60" y1="603.40" x2="555.80" y2="599.60" stroke="#111" stroke-width="1.15" />
<line x1="567.30" y1="590.80" x2="574.20" y2="587.30" stroke="#111" stroke-width="1.15" />
<circle cx="569.9" cy="601.3" r="0.85" fill="#111"/>
<text x="526.70" y="629.00" font-size="11" text-anchor="start" fill="#111" >other active Pt species</text>
<line x1="586.90" y1="571.50" x2="641.40" y2="571.50" stroke="#111" stroke-width="1.3" />
<path d="M655.40,571.50 L639.40,567.30 Q643.40,571.50 639.40,575.70 Z" fill="#111"/>
<text x="616.3" y="566.6" font-size="11" text-anchor="middle" fill="#111">O<tspan font-size="7.5" dy="2.5">2</tspan></text>
<text x="616.8" y="583.0" font-size="11" text-anchor="middle" fill="#111">H<tspan font-size="7.5" dy="2.5">2</tspan><tspan dy="-2.5">O</tspan></text>
<text x="661.50" y="576.60" font-size="11" text-anchor="start" fill="#111" >ROS</text>
</svg>
</body></html>
